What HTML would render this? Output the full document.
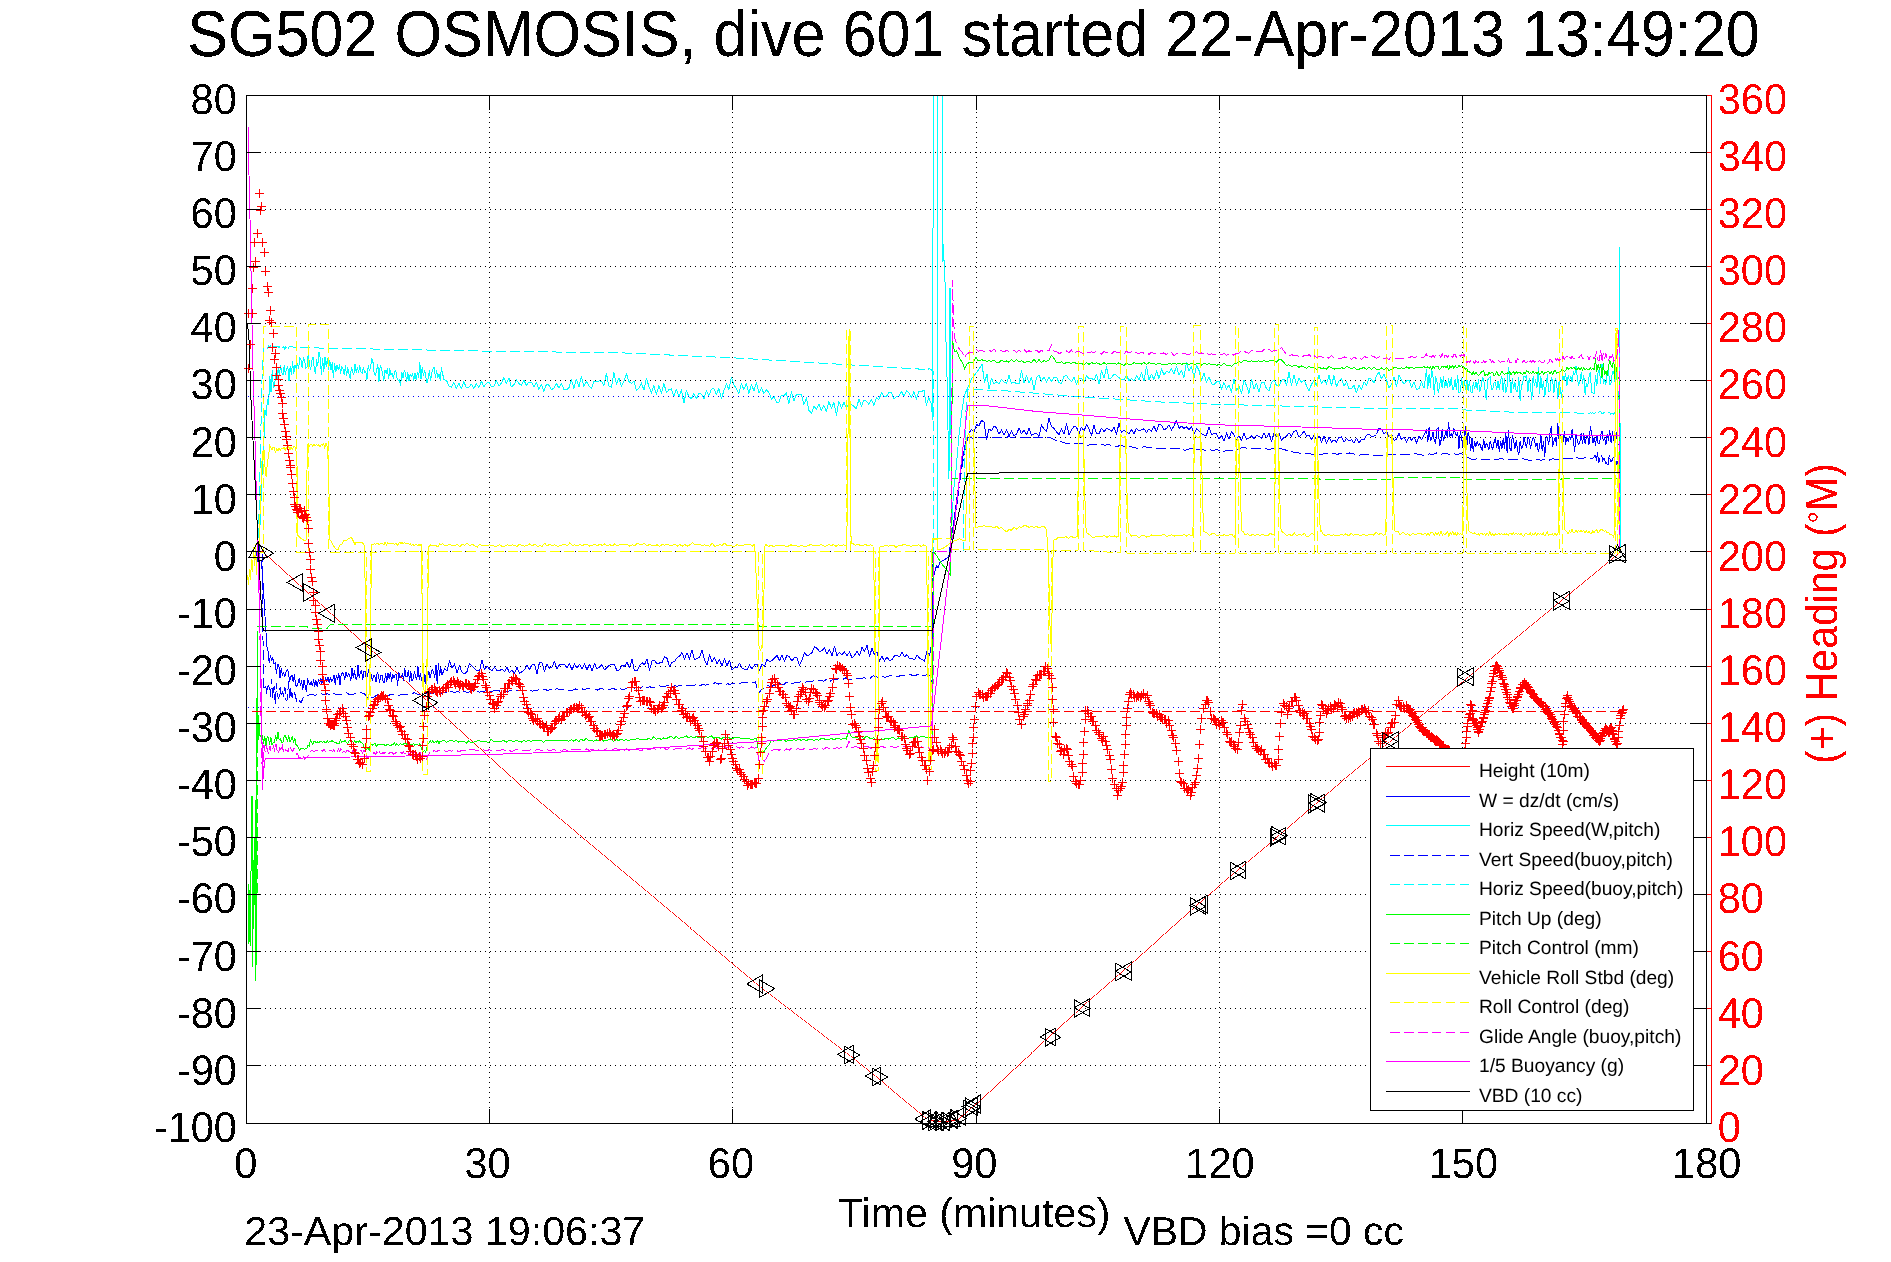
<!DOCTYPE html>
<html><head><meta charset="utf-8"><title>SG502 OSMOSIS dive 601</title>
<style>html,body{margin:0;padding:0;background:#fff}svg{display:block}</style></head>
<body>
<svg width="1891" height="1262" viewBox="0 0 1891 1262" font-family='"Liberation Sans", Arial, Helvetica, sans-serif' shape-rendering="crispEdges" text-rendering="geometricPrecision">
<rect width="1891" height="1262" fill="#fff"/>
<defs><filter id="al" x="-2%" y="-10%" width="104%" height="120%" color-interpolation-filters="sRGB"><feComponentTransfer><feFuncA type="discrete" tableValues="0 1"/></feComponentTransfer></filter><clipPath id="pc"><rect x="246.5" y="95.5" width="1460.0" height="1028.0"/></clipPath></defs>
<path d="M265 1065.5H1690M265 1008.5H1690M265 951.5H1690M265 894.5H1690M265 837.5H1690M265 780.5H1690M265 723.5H1690M265 666.5H1690M265 609.5H1690M265 551.5H1690M265 494.5H1690M265 437.5H1690M265 380.5H1690M265 323.5H1690M265 266.5H1690M265 209.5H1690M265 152.5H1690M489.5 112V1109M732.5 112V1109M976.5 112V1109M1219.5 112V1109M1462.5 112V1109" stroke="#000" stroke-width="1" stroke-dasharray="1 4" fill="none"/>
<g clip-path="url(#pc)" fill="none" stroke-width="1" stroke-linejoin="round">
<path d="M259 551.5h5M263 552.5h1M1619 552.5h1M264 553.5h1M1618 553.5h1M265 554.5h1M1617 554.5h1M266 555.5h1M1616 555.5h1M268 556.5h1M1614 556.5h1M269 557.5h1M1613 557.5h1M270 558.5h1M1612 558.5h1M271 559.5h1M1611 559.5h1M272 560.5h1M1610 560.5h1M273 561.5h1M1609 561.5h1M274 562.5h1M1607 562.5h1M275 563.5h1M1606 563.5h1M276 564.5h1M1605 564.5h1M278 565.5h1M1604 565.5h1M279 566.5h1M1602 566.5h1M280 567.5h1M1601 567.5h1M281 568.5h1M1600 568.5h1M282 569.5h1M1599 569.5h1M283 570.5h1M1598 570.5h1M284 571.5h1M1596 571.5h1M285 572.5h1M1595 572.5h1M286 573.5h1M1594 573.5h1M287 574.5h1M1593 574.5h1M289 575.5h1M1592 575.5h1M290 576.5h1M1590 576.5h1M291 577.5h1M1589 577.5h1M292 578.5h1M1588 578.5h1M293 579.5h1M1587 579.5h1M294 580.5h1M1585 580.5h1M295 581.5h1M1584 581.5h1M296 582.5h1M1583 582.5h1M297 583.5h1M1582 583.5h1M298 584.5h1M1581 584.5h1M300 585.5h1M1579 585.5h1M301 586.5h1M1578 586.5h1M302 587.5h1M1577 587.5h1M303 588.5h1M1576 588.5h1M304 589.5h1M1574 589.5h1M305 590.5h1M1573 590.5h1M306 591.5h1M1572 591.5h1M307 592.5h1M1571 592.5h1M308 593.5h1M1570 593.5h1M310 594.5h1M1568 594.5h1M311 595.5h1M1567 595.5h1M312 596.5h1M1566 596.5h1M313 597.5h1M1565 597.5h1M314 598.5h1M1564 598.5h1M315 599.5h1M1562 599.5h1M316 600.5h1M1561 600.5h1M317 601.5h1M1560 601.5h1M318 602.5h1M1559 602.5h1M319 603.5h1M1557 603.5h1M321 604.5h1M1556 604.5h1M322 605.5h1M1555 605.5h1M323 606.5h1M1554 606.5h1M324 607.5h1M1553 607.5h1M325 608.5h1M1551 608.5h1M326 609.5h1M1550 609.5h1M327 610.5h1M1549 610.5h1M328 611.5h1M1548 611.5h1M329 612.5h1M1547 612.5h1M330 613.5h1M1545 613.5h1M332 614.5h1M1544 614.5h1M333 615.5h1M1543 615.5h1M334 616.5h1M1542 616.5h1M335 617.5h1M1540 617.5h1M336 618.5h1M1539 618.5h1M337 619.5h1M1538 619.5h1M338 620.5h1M1537 620.5h1M339 621.5h1M1536 621.5h1M340 622.5h1M1534 622.5h1M342 623.5h1M1533 623.5h1M343 624.5h1M1532 624.5h1M344 625.5h1M1531 625.5h1M345 626.5h1M1529 626.5h1M346 627.5h1M1528 627.5h1M347 628.5h1M1527 628.5h1M348 629.5h1M1526 629.5h1M349 630.5h1M1525 630.5h1M350 631.5h1M1523 631.5h1M351 632.5h1M1522 632.5h1M353 633.5h1M1521 633.5h1M354 634.5h1M1520 634.5h1M355 635.5h1M1519 635.5h1M356 636.5h1M1517 636.5h1M357 637.5h1M1516 637.5h1M358 638.5h1M1515 638.5h1M359 639.5h1M1514 639.5h1M360 640.5h1M1512 640.5h1M361 641.5h1M1511 641.5h1M363 642.5h1M1510 642.5h1M364 643.5h1M1509 643.5h1M365 644.5h1M1508 644.5h1M366 645.5h1M1506 645.5h1M367 646.5h1M1505 646.5h1M368 647.5h1M1504 647.5h1M369 648.5h1M1503 648.5h1M370 649.5h1M1501 649.5h1M371 650.5h1M1500 650.5h1M372 651.5h1M1499 651.5h1M374 652.5h1M1498 652.5h1M375 653.5h1M1497 653.5h1M376 654.5h1M1495 654.5h1M377 655.5h1M1494 655.5h1M378 656.5h1M1493 656.5h1M379 657.5h1M1492 657.5h1M380 658.5h1M1491 658.5h1M381 659.5h1M1489 659.5h1M382 660.5h1M1488 660.5h1M383 661.5h1M1487 661.5h1M385 662.5h1M1486 662.5h1M386 663.5h1M1484 663.5h1M387 664.5h1M1483 664.5h1M388 665.5h1M1482 665.5h1M389 666.5h1M1481 666.5h1M390 667.5h1M1480 667.5h1M391 668.5h1M1478 668.5h1M392 669.5h1M1477 669.5h1M393 670.5h1M1476 670.5h1M395 671.5h1M1475 671.5h1M396 672.5h1M1473 672.5h1M397 673.5h1M1472 673.5h1M398 674.5h1M1471 674.5h1M399 675.5h1M1470 675.5h1M400 676.5h1M1469 676.5h1M401 677.5h1M1467 677.5h1M402 678.5h1M1466 678.5h1M403 679.5h1M1465 679.5h1M404 680.5h1M1464 680.5h1M406 681.5h1M1463 681.5h1M407 682.5h1M1461 682.5h1M408 683.5h1M1460 683.5h1M409 684.5h1M1459 684.5h1M410 685.5h1M1458 685.5h1M411 686.5h1M1456 686.5h1M412 687.5h1M1455 687.5h1M413 688.5h1M1454 688.5h1M414 689.5h1M1453 689.5h1M415 690.5h1M1452 690.5h1M417 691.5h1M1450 691.5h1M418 692.5h1M1449 692.5h1M419 693.5h1M1448 693.5h1M420 694.5h1M1447 694.5h1M421 695.5h1M1445 695.5h1M422 696.5h1M1444 696.5h1M423 697.5h1M1443 697.5h1M424 698.5h1M1442 698.5h1M425 699.5h1M1441 699.5h1M427 700.5h1M1439 700.5h1M428 701.5h1M1438 701.5h1M429 702.5h1M1437 702.5h1M430 703.5h1M1436 703.5h1M431 704.5h1M1435 704.5h1M432 705.5h1M1433 705.5h1M433 706.5h1M1432 706.5h1M434 707.5h1M1431 707.5h1M435 708.5h1M1430 708.5h1M436 709.5h1M1428 709.5h1M438 710.5h1M1427 710.5h1M439 711.5h1M1426 711.5h1M440 712.5h1M1425 712.5h1M441 713.5h1M1424 713.5h1M442 714.5h1M1422 714.5h1M443 715.5h1M1421 715.5h1M444 716.5h1M1420 716.5h1M445 717.5h1M1419 717.5h1M446 718.5h1M1418 718.5h1M448 719.5h1M1416 719.5h1M449 720.5h1M1415 720.5h1M450 721.5h1M1414 721.5h1M451 722.5h1M1413 722.5h1M452 723.5h1M1411 723.5h1M453 724.5h1M1410 724.5h1M454 725.5h1M1409 725.5h1M455 726.5h1M1408 726.5h1M456 727.5h1M1407 727.5h1M457 728.5h1M1405 728.5h1M459 729.5h1M1404 729.5h1M460 730.5h1M1403 730.5h1M461 731.5h1M1402 731.5h1M462 732.5h1M1400 732.5h1M463 733.5h1M1399 733.5h1M464 734.5h1M1398 734.5h1M465 735.5h1M1397 735.5h1M466 736.5h1M1396 736.5h1M467 737.5h1M1394 737.5h1M468 738.5h1M1393 738.5h1M470 739.5h1M1392 739.5h1M471 740.5h1M1391 740.5h1M472 741.5h1M1390 741.5h1M473 742.5h1M1388 742.5h1M474 743.5h1M1387 743.5h1M475 744.5h1M1386 744.5h1M476 745.5h1M1385 745.5h1M477 746.5h1M1383 746.5h1M478 747.5h1M1382 747.5h1M480 748.5h1M1381 748.5h1M481 749.5h1M1380 749.5h1M482 750.5h1M1379 750.5h1M483 751.5h1M1377 751.5h1M484 752.5h1M1376 752.5h1M485 753.5h1M1375 753.5h1M486 754.5h1M1374 754.5h1M487 755.5h1M1372 755.5h1M488 756.5h1M1371 756.5h1M489 757.5h1M1370 757.5h1M491 758.5h1M1369 758.5h1M492 759.5h1M1368 759.5h1M493 760.5h1M1366 760.5h1M494 761.5h1M1365 761.5h1M495 762.5h1M1364 762.5h1M496 763.5h1M1363 763.5h1M497 764.5h1M1362 764.5h1M498 765.5h1M1360 765.5h1M499 766.5h1M1359 766.5h1M500 767.5h1M1358 767.5h1M502 768.5h1M1357 768.5h1M503 769.5h1M1355 769.5h1M504 770.5h1M1354 770.5h1M505 771.5h1M1353 771.5h1M506 772.5h1M1352 772.5h1M507 773.5h1M1351 773.5h1M508 774.5h1M1349 774.5h1M509 775.5h1M1348 775.5h1M510 776.5h1M1347 776.5h1M512 777.5h1M1346 777.5h1M513 778.5h1M1344 778.5h1M514 779.5h1M1343 779.5h1M515 780.5h1M1342 780.5h1M516 781.5h1M1341 781.5h1M517 782.5h1M1340 782.5h1M518 783.5h1M1339 783.5h1M519 784.5h1M1338 784.5h1M520 785.5h1M1337 785.5h1M521 786.5h1M1335 786.5h1M523 787.5h1M1334 787.5h1M524 788.5h1M1333 788.5h1M525 789.5h1M1332 789.5h1M526 790.5h1M1331 790.5h1M527 791.5h1M1330 791.5h1M528 792.5h1M1328 792.5h1M530 793.5h1M1327 793.5h1M531 794.5h1M1326 794.5h1M532 795.5h1M1325 795.5h1M533 796.5h1M1324 796.5h1M534 797.5h1M1323 797.5h1M536 798.5h1M1321 798.5h1M537 799.5h1M1320 799.5h1M538 800.5h1M1319 800.5h1M539 801.5h1M1318 801.5h1M540 802.5h1M1317 802.5h1M541 803.5h1M1316 803.5h1M543 804.5h1M1314 804.5h1M544 805.5h1M1313 805.5h1M545 806.5h1M1312 806.5h1M546 807.5h1M1311 807.5h1M547 808.5h1M1310 808.5h1M549 809.5h1M1309 809.5h1M550 810.5h1M1307 810.5h1M551 811.5h1M1306 811.5h1M552 812.5h1M1305 812.5h1M553 813.5h1M1304 813.5h1M555 814.5h1M1303 814.5h1M556 815.5h1M1302 815.5h1M557 816.5h1M1301 816.5h1M558 817.5h1M1299 817.5h1M559 818.5h1M1298 818.5h1M561 819.5h1M1297 819.5h1M562 820.5h1M1296 820.5h1M563 821.5h1M1295 821.5h1M564 822.5h1M1294 822.5h1M565 823.5h1M1292 823.5h1M567 824.5h1M1291 824.5h1M568 825.5h1M1290 825.5h1M569 826.5h1M1289 826.5h1M570 827.5h1M1288 827.5h1M571 828.5h1M1287 828.5h1M573 829.5h1M1285 829.5h1M574 830.5h1M1284 830.5h1M575 831.5h1M1283 831.5h1M576 832.5h1M1282 832.5h1M577 833.5h1M1281 833.5h1M578 834.5h1M1280 834.5h1M580 835.5h1M1278 835.5h1M581 836.5h1M1277 836.5h1M582 837.5h1M1276 837.5h1M583 838.5h1M1275 838.5h1M584 839.5h1M1274 839.5h1M586 840.5h1M1273 840.5h1M587 841.5h1M1271 841.5h1M588 842.5h1M1270 842.5h1M589 843.5h1M1269 843.5h1M590 844.5h1M1268 844.5h1M592 845.5h1M1267 845.5h1M593 846.5h1M1266 846.5h1M594 847.5h1M1264 847.5h1M595 848.5h1M1263 848.5h1M596 849.5h1M1262 849.5h1M598 850.5h1M1261 850.5h1M599 851.5h1M1260 851.5h1M600 852.5h1M1258 852.5h1M601 853.5h1M1257 853.5h1M602 854.5h1M1256 854.5h1M604 855.5h1M1255 855.5h1M605 856.5h1M1254 856.5h1M606 857.5h1M1252 857.5h1M607 858.5h1M1251 858.5h1M608 859.5h1M1250 859.5h1M610 860.5h1M1249 860.5h1M611 861.5h1M1248 861.5h1M612 862.5h1M1246 862.5h1M613 863.5h1M1245 863.5h1M614 864.5h1M1244 864.5h1M615 865.5h1M1243 865.5h1M617 866.5h1M1242 866.5h1M618 867.5h1M1240 867.5h1M619 868.5h1M1239 868.5h1M620 869.5h1M1238 869.5h1M621 870.5h1M1237 870.5h1M623 871.5h1M1236 871.5h1M624 872.5h1M1234 872.5h1M625 873.5h1M1233 873.5h1M626 874.5h1M1232 874.5h1M627 875.5h1M1231 875.5h1M629 876.5h1M1230 876.5h1M630 877.5h1M1228 877.5h1M631 878.5h1M1227 878.5h1M632 879.5h1M1226 879.5h1M633 880.5h1M1225 880.5h1M635 881.5h1M1224 881.5h1M636 882.5h1M1222 882.5h1M637 883.5h1M1221 883.5h1M638 884.5h1M1220 884.5h1M639 885.5h1M1219 885.5h1M641 886.5h1M1218 886.5h1M642 887.5h1M1217 887.5h1M643 888.5h1M1216 888.5h1M644 889.5h1M1215 889.5h1M645 890.5h1M1214 890.5h1M647 891.5h1M1212 891.5h1M648 892.5h1M1211 892.5h1M649 893.5h1M1210 893.5h1M650 894.5h1M1209 894.5h1M651 895.5h1M1208 895.5h1M653 896.5h1M1207 896.5h1M654 897.5h1M1205 897.5h1M655 898.5h1M1204 898.5h1M656 899.5h1M1203 899.5h1M657 900.5h1M1202 900.5h1M658 901.5h1M1201 901.5h1M660 902.5h1M1200 902.5h1M661 903.5h1M1198 903.5h1M662 904.5h1M1197 904.5h1M663 905.5h1M1196 905.5h1M664 906.5h1M1195 906.5h1M666 907.5h1M1194 907.5h1M667 908.5h1M1193 908.5h1M668 909.5h1M1192 909.5h1M669 910.5h1M1190 910.5h1M670 911.5h1M1189 911.5h1M672 912.5h1M1188 912.5h1M673 913.5h1M1187 913.5h1M674 914.5h1M1186 914.5h1M675 915.5h1M1185 915.5h1M676 916.5h1M1184 916.5h1M678 917.5h1M1183 917.5h1M679 918.5h1M1181 918.5h1M680 919.5h1M1180 919.5h1M681 920.5h1M1179 920.5h1M682 921.5h1M1178 921.5h1M684 922.5h1M1177 922.5h1M685 923.5h1M1176 923.5h1M686 924.5h1M1175 924.5h1M687 925.5h1M1174 925.5h1M688 926.5h1M1172 926.5h1M690 927.5h1M1171 927.5h1M690 928.5h1M1170 928.5h1M691 929.5h1M1169 929.5h1M693 930.5h1M1168 930.5h1M694 931.5h1M1167 931.5h1M695 932.5h1M1166 932.5h1M696 933.5h1M1165 933.5h1M697 934.5h1M1163 934.5h1M699 935.5h1M1162 935.5h1M700 936.5h1M1161 936.5h1M701 937.5h1M1160 937.5h1M702 938.5h1M1159 938.5h1M703 939.5h1M1158 939.5h1M704 940.5h1M1157 940.5h1M706 941.5h1M1156 941.5h1M707 942.5h1M1155 942.5h1M708 943.5h1M1154 943.5h1M709 944.5h1M1153 944.5h1M710 945.5h1M1151 945.5h1M712 946.5h1M1150 946.5h1M713 947.5h1M1149 947.5h1M714 948.5h1M1148 948.5h1M715 949.5h1M1147 949.5h1M716 950.5h1M1146 950.5h1M718 951.5h1M1145 951.5h1M719 952.5h1M1144 952.5h1M720 953.5h1M1142 953.5h1M721 954.5h1M1141 954.5h1M722 955.5h1M1140 955.5h1M724 956.5h1M1139 956.5h1M725 957.5h1M1138 957.5h1M726 958.5h1M1137 958.5h1M727 959.5h1M1136 959.5h1M728 960.5h1M1135 960.5h1M729 961.5h1M1133 961.5h1M731 962.5h1M1132 962.5h1M732 963.5h1M1131 963.5h1M733 964.5h1M1130 964.5h1M734 965.5h1M1129 965.5h1M735 966.5h1M1128 966.5h1M737 967.5h1M1127 967.5h1M738 968.5h1M1125 968.5h1M739 969.5h1M1124 969.5h1M740 970.5h1M1123 970.5h1M741 971.5h1M1122 971.5h1M743 972.5h1M1121 972.5h1M744 973.5h1M1120 973.5h1M745 974.5h1M1119 974.5h1M746 975.5h1M1117 975.5h1M747 976.5h1M1116 976.5h1M749 977.5h1M1115 977.5h1M750 978.5h1M1114 978.5h1M751 979.5h1M1113 979.5h1M752 980.5h1M1112 980.5h1M753 981.5h1M1111 981.5h1M754 982.5h1M1109 982.5h1M756 983.5h1M1108 983.5h1M757 984.5h1M1107 984.5h1M758 985.5h1M1106 985.5h1M759 986.5h1M1105 986.5h1M761 987.5h1M1104 987.5h1M762 988.5h1M1103 988.5h1M763 989.5h1M1101 989.5h1M764 990.5h1M1100 990.5h1M766 991.5h1M1099 991.5h1M767 992.5h1M1098 992.5h1M768 993.5h1M1097 993.5h1M770 994.5h1M1096 994.5h1M771 995.5h1M1094 995.5h1M772 996.5h1M1093 996.5h1M774 997.5h1M1092 997.5h1M775 998.5h1M1091 998.5h1M776 999.5h1M1090 999.5h1M778 1000.5h1M1089 1000.5h1M779 1001.5h1M1088 1001.5h1M780 1002.5h1M1086 1002.5h1M781 1003.5h1M1085 1003.5h1M783 1004.5h1M1084 1004.5h1M784 1005.5h1M1083 1005.5h1M785 1006.5h1M1082 1006.5h1M787 1007.5h1M1081 1007.5h1M788 1008.5h1M1080 1008.5h1M789 1009.5h1M1079 1009.5h1M791 1010.5h1M1078 1010.5h1M792 1011.5h1M1077 1011.5h1M793 1012.5h1M1076 1012.5h1M794 1013.5h1M1074 1013.5h1M796 1014.5h1M1073 1014.5h1M797 1015.5h1M1072 1015.5h1M798 1016.5h1M1071 1016.5h1M800 1017.5h1M1070 1017.5h1M801 1018.5h1M1069 1018.5h1M802 1019.5h1M1068 1019.5h1M804 1020.5h1M1067 1020.5h1M805 1021.5h1M1066 1021.5h1M806 1022.5h1M1064 1022.5h1M808 1023.5h1M1063 1023.5h1M809 1024.5h1M1062 1024.5h1M810 1025.5h1M1061 1025.5h1M811 1026.5h1M1060 1026.5h1M813 1027.5h1M1059 1027.5h1M814 1028.5h1M1058 1028.5h1M815 1029.5h1M1057 1029.5h1M817 1030.5h1M1056 1030.5h1M818 1031.5h1M1054 1031.5h1M819 1032.5h1M1053 1032.5h1M821 1033.5h1M1052 1033.5h1M822 1034.5h1M1051 1034.5h1M823 1035.5h1M1050 1035.5h1M824 1036.5h1M1049 1036.5h1M826 1037.5h1M1048 1037.5h1M827 1038.5h1M1047 1038.5h1M828 1039.5h1M1046 1039.5h1M830 1040.5h1M1045 1040.5h1M831 1041.5h1M1043 1041.5h1M832 1042.5h1M1042 1042.5h1M834 1043.5h1M1041 1043.5h1M835 1044.5h1M1040 1044.5h1M836 1045.5h1M1039 1045.5h1M838 1046.5h1M1038 1046.5h1M839 1047.5h1M1037 1047.5h1M840 1048.5h1M1036 1048.5h1M841 1049.5h1M1035 1049.5h1M843 1050.5h1M1034 1050.5h1M844 1051.5h1M1033 1051.5h1M845 1052.5h1M1031 1052.5h1M847 1053.5h1M1031 1053.5h1M848 1054.5h1M1030 1054.5h1M849 1055.5h1M1029 1055.5h1M851 1056.5h1M1028 1056.5h1M852 1057.5h1M1027 1057.5h1M853 1058.5h1M1025 1058.5h1M854 1059.5h1M1024 1059.5h1M856 1060.5h1M1023 1060.5h1M857 1061.5h1M1022 1061.5h1M858 1062.5h1M1021 1062.5h1M859 1063.5h1M1020 1063.5h1M861 1064.5h1M1019 1064.5h1M862 1065.5h1M1018 1065.5h1M863 1066.5h1M1017 1066.5h1M864 1067.5h1M1016 1067.5h1M866 1068.5h1M1015 1068.5h1M867 1069.5h1M1013 1069.5h1M868 1070.5h1M1012 1070.5h1M869 1071.5h1M1011 1071.5h1M871 1072.5h1M1010 1072.5h1M872 1073.5h1M1009 1073.5h1M873 1074.5h1M1008 1074.5h1M874 1075.5h1M1007 1075.5h1M876 1076.5h1M1006 1076.5h1M877 1077.5h1M1005 1077.5h1M878 1078.5h1M1004 1078.5h1M879 1079.5h1M1003 1079.5h1M880 1080.5h1M1002 1080.5h1M882 1081.5h1M1000 1081.5h1M883 1082.5h1M999 1082.5h1M884 1083.5h1M998 1083.5h1M885 1084.5h1M997 1084.5h1M886 1085.5h1M996 1085.5h1M888 1086.5h1M995 1086.5h1M888 1087.5h1M994 1087.5h1M890 1088.5h1M993 1088.5h1M891 1089.5h1M992 1089.5h1M892 1090.5h1M991 1090.5h1M893 1091.5h1M990 1091.5h1M894 1092.5h1M988 1092.5h1M896 1093.5h1M987 1093.5h1M897 1094.5h1M986 1094.5h1M898 1095.5h1M985 1095.5h1M899 1096.5h1M984 1096.5h1M900 1097.5h1M983 1097.5h1M902 1098.5h1M982 1098.5h1M903 1099.5h1M981 1099.5h1M904 1100.5h1M980 1100.5h1M905 1101.5h1M979 1101.5h1M906 1102.5h1M978 1102.5h1M908 1103.5h1M976 1103.5h1M909 1104.5h1M975 1104.5h1M910 1105.5h1M974 1105.5h1M911 1106.5h1M973 1106.5h1M913 1107.5h1M972 1107.5h1M914 1108.5h1M970 1108.5h1M915 1109.5h1M969 1109.5h1M916 1110.5h1M968 1110.5h1M917 1111.5h1M967 1111.5h1M919 1112.5h1M966 1112.5h1M920 1113.5h1M965 1113.5h1M921 1114.5h1M964 1114.5h1M922 1115.5h1M962 1115.5h1M923 1116.5h1M961 1116.5h1M925 1117.5h1M960 1117.5h1M926 1118.5h1M959 1118.5h1M928 1119.5h1M958 1119.5h1M929 1120.5h6M949 1120.5h10M935 1121.5h15" stroke="#f00"/>
<path d="M256.5 556.0L257.3 548.0L258.2 566.0L259.0 545.0L259.8 560.0L261.4 560.0L263.5 590.0L265.5 625.0L267.0 647.0L268.0 650.4L269.2 663.0L270.4 655.4L271.6 660.8L272.8 657.7L274.0 664.0L275.2 662.8L276.4 673.3L277.6 664.4L278.8 664.9L280.0 678.4L281.2 668.0L282.4 676.0L283.6 672.4L284.8 676.2L286.0 672.4L287.2 669.7L288.4 671.3L289.6 682.0L290.8 676.9L292.0 675.2L293.2 681.8L294.4 674.7L295.6 684.8L296.8 686.9L298.0 682.9L299.2 678.3L300.4 685.8L301.6 680.8L302.8 689.6L304.0 680.2L305.2 686.3L306.4 691.8L307.6 678.3L308.8 683.0L310.0 685.1L311.2 681.7L312.4 686.0L313.6 679.4L314.8 686.1L316.0 680.6L317.2 686.5L318.4 679.7L319.6 683.4L320.8 678.4L322.0 683.5L323.2 676.0L324.4 683.3L325.6 678.0L326.8 681.9L328.0 677.5L329.2 682.7L330.4 677.6L331.6 681.3L332.8 680.1L334.0 675.0L335.2 684.9L336.4 675.4L337.6 679.7L338.8 673.5L340.0 685.0L341.2 674.1L342.4 672.6L343.6 674.2L344.8 679.4L346.0 671.6L347.2 676.9L348.4 673.6L349.6 674.7L350.8 680.8L352.0 668.1L353.2 678.0L354.4 670.9L355.6 678.0L356.8 679.4L358.0 665.1L359.2 678.0L360.4 672.1L361.6 671.0L362.8 679.1L364.0 670.9L365.2 671.5L366.4 679.0L367.6 674.7L368.8 669.0L370.0 678.7L371.2 674.6L372.4 680.7L373.6 675.5L374.8 676.0L376.0 681.9L377.2 672.2L378.4 675.0L379.6 682.2L380.8 675.2L382.0 675.2L383.2 682.1L384.4 682.8L385.6 673.7L386.8 682.0L388.0 672.9L389.2 678.4L390.4 672.0L391.6 681.4L392.8 674.0L394.0 677.9L395.2 674.0L396.4 674.0L397.6 685.8L398.8 672.0L400.0 678.0L401.2 676.6L402.4 673.7L403.6 680.1L404.8 668.4L406.0 676.8L407.2 676.9L408.4 670.3L409.6 681.2L410.8 671.3L412.0 680.8L413.2 678.6L414.4 671.6L415.6 677.1L416.8 679.7L418.0 666.4L419.2 679.4L420.4 673.7L421.6 680.1L422.8 681.3L424.0 673.6L425.2 683.4L426.4 671.1L427.6 676.3L428.8 671.2L430.0 678.0L431.2 672.8L432.4 669.3L433.6 672.1L434.8 677.3L436.0 664.9L437.2 683.5L438.4 663.1L439.6 675.7L440.8 667.6L442.0 675.1L444.5 668.8L447.0 670.8L449.5 661.0L452.0 668.2L454.5 663.8L457.0 672.9L459.5 665.9L462.0 672.3L464.5 673.8L467.0 671.6L469.5 663.2L472.0 665.9L474.5 668.5L477.0 670.6L479.5 671.2L482.0 659.9L484.5 670.0L487.0 665.7L489.5 669.0L492.0 670.9L494.5 666.9L497.0 670.8L499.5 670.9L502.0 668.8L504.5 671.6L507.0 667.4L509.5 672.8L512.0 670.2L514.5 673.6L517.0 667.5L519.5 673.1L522.0 671.8L524.5 669.6L527.0 665.4L529.5 669.3L532.0 664.9L534.5 664.5L537.0 673.6L539.5 662.3L542.0 662.7L544.5 671.9L547.0 663.9L549.5 668.5L552.0 666.9L554.5 661.4L557.0 668.6L559.5 664.8L562.0 664.0L564.5 664.5L567.0 668.0L569.5 663.4L572.0 670.1L574.5 663.9L577.0 668.1L579.5 664.4L582.0 669.2L584.5 663.8L587.0 669.9L589.5 664.1L592.0 671.1L594.5 663.2L597.0 668.9L599.5 667.1L602.0 664.7L604.5 669.8L607.0 667.5L609.5 665.1L612.0 664.6L614.5 664.8L617.0 670.8L619.5 669.9L622.0 665.6L624.5 666.3L627.0 662.2L629.5 667.8L632.0 659.4L634.5 671.0L637.0 670.6L639.5 665.8L642.0 662.7L644.5 664.7L647.0 658.8L649.5 670.4L652.0 660.9L654.5 660.3L657.0 663.7L659.5 663.0L662.0 662.5L664.5 656.8L667.0 658.3L669.5 666.4L672.0 662.2L674.5 661.8L677.0 657.7L679.5 656.4L682.0 652.6L684.5 659.1L687.0 652.8L689.5 659.3L692.0 649.6L694.5 659.9L697.0 658.6L699.5 657.4L702.0 649.9L704.5 659.9L707.0 665.0L709.5 654.7L712.0 661.6L714.5 657.5L717.0 663.9L719.5 659.8L722.0 666.0L724.5 658.9L727.0 665.7L729.5 660.3L732.0 669.6L734.5 667.5L737.0 668.1L739.5 663.4L742.0 668.2L744.5 669.2L747.0 669.6L749.5 665.0L752.0 669.0L754.5 664.9L757.0 664.1L759.5 670.2L762.0 664.0L764.5 666.0L767.0 659.5L769.5 661.4L772.0 660.9L774.5 657.8L777.0 655.5L779.5 660.6L782.0 655.1L784.5 661.3L787.0 655.0L789.5 656.9L792.0 661.1L794.5 657.5L797.0 657.8L799.5 665.1L802.0 659.7L804.5 652.6L807.0 655.9L809.5 654.7L812.0 652.6L814.5 646.4L817.0 648.3L819.5 651.6L822.0 650.5L824.5 647.6L827.0 654.2L829.5 649.4L832.0 655.6L834.5 646.6L837.0 655.4L839.5 652.2L842.0 654.8L844.5 651.8L847.0 656.0L849.5 651.9L852.0 657.9L854.5 655.2L857.0 651.4L859.5 655.3L862.0 647.6L864.5 651.5L867.0 645.4L869.5 656.1L872.0 648.5L874.5 654.8L877.0 651.8L879.5 661.1L882.0 656.6L884.5 661.1L887.0 656.8L889.5 660.8L892.0 659.4L894.5 655.9L897.0 655.1L899.5 656.8L902.0 651.9L904.5 656.8L907.0 654.7L909.5 658.4L912.0 658.2L914.5 659.7L917.0 654.7L919.5 658.3L922.0 659.3L924.5 661.1L927.0 650.7L929.5 655.5L932.4 640.0L933.0 600.0L934.0 575.0L936.6 565.4L938.0 568.0L940.0 562.0L944.0 560.0L948.8 556.6L951.0 540.0L954.0 520.0L958.0 490.0L962.0 462.0L965.0 445.0L967.7 435.4L969.0 432.9L971.5 429.4L974.0 431.9L976.5 424.6L979.0 425.7L981.5 420.4L984.0 421.9L986.5 439.5L989.0 428.9L991.5 430.6L994.0 426.2L996.5 427.6L999.0 434.3L1001.5 430.0L1004.0 435.3L1006.5 429.6L1009.0 435.6L1011.5 430.9L1014.0 435.4L1016.5 434.3L1019.0 428.0L1021.5 433.8L1024.0 429.9L1026.5 434.9L1029.0 428.4L1031.5 435.5L1034.0 434.0L1036.5 433.1L1039.0 436.5L1041.5 424.8L1044.0 429.3L1046.5 431.4L1049.0 418.3L1051.5 426.9L1054.0 428.3L1056.5 431.9L1059.0 434.6L1061.5 429.0L1064.0 434.1L1066.5 423.8L1069.0 434.5L1071.5 430.1L1074.0 426.4L1076.5 427.1L1079.0 433.6L1081.5 427.1L1084.0 431.3L1086.5 424.3L1089.0 429.0L1091.5 435.5L1094.0 425.4L1096.5 433.9L1099.0 433.7L1101.5 428.2L1104.0 431.5L1106.5 428.7L1109.0 429.1L1111.5 431.1L1114.0 427.5L1116.5 434.2L1119.0 423.2L1121.5 432.8L1124.0 430.0L1126.5 432.4L1129.0 433.4L1131.5 429.8L1134.0 433.7L1136.5 428.1L1139.0 431.1L1141.5 429.8L1144.0 428.8L1146.5 432.6L1149.0 428.8L1151.5 431.1L1154.0 426.4L1156.5 431.9L1159.0 424.0L1161.5 425.5L1164.0 429.7L1166.5 428.6L1169.0 424.8L1171.5 430.1L1174.0 425.7L1176.5 420.4L1179.0 428.3L1181.5 426.1L1184.0 428.4L1186.5 426.8L1189.0 429.7L1191.5 426.7L1194.0 434.1L1196.5 429.0L1199.0 430.9L1201.5 433.5L1204.0 435.0L1206.5 435.1L1209.0 427.2L1211.5 434.8L1214.0 433.4L1216.5 434.0L1219.0 439.0L1221.5 435.4L1224.0 441.2L1226.5 433.0L1229.0 439.3L1231.5 431.6L1234.0 434.7L1236.5 439.6L1239.0 435.9L1241.5 440.3L1244.0 433.0L1246.5 439.5L1249.0 438.0L1251.5 436.0L1254.0 438.7L1256.5 435.2L1259.0 436.3L1261.5 438.6L1264.0 432.9L1266.5 437.8L1269.0 432.9L1271.5 441.8L1274.0 433.1L1276.5 436.6L1279.0 433.3L1281.5 440.4L1284.0 437.4L1286.5 436.1L1289.0 432.9L1291.5 436.2L1294.0 431.1L1296.5 430.9L1299.0 437.1L1301.5 434.6L1304.0 431.1L1306.5 436.0L1309.0 434.9L1311.5 439.5L1314.0 435.3L1316.5 439.8L1319.0 435.8L1321.5 442.0L1324.0 436.3L1326.5 443.6L1329.0 437.3L1331.5 442.1L1334.0 439.8L1336.5 442.0L1339.0 437.6L1341.5 436.8L1344.0 442.2L1346.5 438.6L1349.0 441.2L1351.5 439.5L1354.0 443.3L1356.5 438.3L1359.0 442.6L1361.5 439.6L1364.0 439.8L1366.5 435.1L1369.0 434.1L1371.5 436.5L1374.0 436.0L1376.5 434.5L1379.0 428.0L1381.5 429.5L1384.0 433.6L1386.5 431.6L1389.0 436.6L1391.5 434.3L1394.0 440.3L1396.5 439.2L1399.0 433.3L1401.5 439.8L1404.0 436.7L1406.5 442.3L1409.0 436.9L1411.5 440.2L1414.0 436.7L1416.5 443.0L1419.0 436.1L1421.5 439.9L1424.0 435.3L1426.5 429.7L1427.8 441.9L1429.1 427.4L1430.4 440.6L1431.7 438.9L1433.0 431.6L1434.3 441.0L1435.6 443.4L1436.9 428.9L1438.2 427.8L1439.5 445.8L1440.8 442.5L1442.1 429.7L1443.4 440.5L1444.7 436.7L1446.0 429.6L1447.3 437.3L1448.6 422.5L1449.9 436.6L1451.2 433.1L1452.5 437.2L1453.8 428.5L1455.1 432.1L1456.4 435.8L1457.7 432.5L1459.0 448.5L1460.3 431.0L1461.6 437.6L1462.9 446.7L1464.2 439.5L1465.5 426.4L1466.8 447.6L1468.1 432.3L1469.4 438.2L1470.7 450.9L1472.0 438.3L1473.3 451.3L1474.6 441.1L1475.9 446.8L1477.2 441.3L1478.5 445.7L1479.8 443.5L1481.1 447.8L1482.4 450.8L1483.7 439.2L1485.0 448.1L1486.3 443.1L1487.6 445.7L1488.9 449.4L1490.2 441.0L1491.5 446.4L1492.8 449.1L1494.1 442.0L1495.4 438.0L1496.7 447.8L1498.0 439.6L1499.3 451.2L1500.6 441.2L1501.9 448.4L1503.2 438.4L1504.5 448.5L1505.8 433.3L1507.1 452.7L1508.4 430.2L1509.7 447.6L1511.0 451.2L1512.3 435.0L1513.6 440.7L1514.9 448.6L1516.2 440.4L1517.5 449.9L1518.8 455.0L1520.1 441.4L1521.4 448.4L1522.7 447.1L1524.0 437.4L1525.3 443.6L1526.6 447.3L1527.9 437.3L1529.2 439.6L1530.5 448.1L1531.8 442.0L1533.1 437.7L1534.4 439.6L1535.7 447.0L1537.0 443.3L1538.3 451.7L1539.6 447.5L1540.9 434.6L1542.2 450.9L1543.5 441.4L1544.8 456.2L1546.1 436.7L1547.4 437.3L1548.7 444.6L1550.0 432.7L1551.3 426.3L1552.6 446.2L1553.9 441.6L1555.2 437.2L1556.5 445.1L1557.8 423.7L1559.1 440.4L1560.4 435.0L1561.7 442.9L1563.0 441.6L1564.3 431.2L1565.6 444.4L1566.9 437.4L1568.2 441.2L1569.5 436.1L1570.8 439.8L1572.1 429.3L1573.4 441.3L1574.7 451.5L1576.0 433.7L1577.3 440.4L1578.6 444.4L1579.9 441.6L1581.2 433.0L1582.5 443.7L1583.8 433.9L1585.1 444.0L1586.4 436.4L1587.7 436.5L1589.0 444.7L1590.3 426.8L1591.6 432.3L1592.9 443.1L1594.2 437.0L1595.5 445.5L1596.8 435.1L1598.1 443.4L1599.4 443.8L1600.7 435.1L1602.0 431.2L1603.3 440.9L1604.6 437.3L1605.9 445.0L1607.2 434.1L1608.5 440.1L1609.8 430.7L1611.1 443.1L1612.4 431.8L1613.7 440.2L1615.0 437.0L1616.3 432.8L1617.6 443.5L1619.2 445.0L1620.0 552.0" stroke="#00f"/>
<path d="M259.0 546.5L260.2 521.6L261.4 490.7L262.6 460.0L263.8 444.5L265.0 410.0L266.2 415.7L267.4 399.9L268.6 404.2L269.8 376.5L271.0 392.2L272.2 370.7L273.4 387.9L274.6 385.8L275.8 373.0L277.0 379.1L278.2 368.2L279.4 375.6L280.6 365.5L281.8 372.8L283.0 374.7L284.2 365.8L285.4 374.3L286.6 368.2L287.8 366.9L289.0 380.9L290.2 366.0L291.4 374.4L292.6 361.9L293.8 373.6L295.0 365.3L296.2 368.4L297.4 363.3L298.6 368.7L299.8 357.5L301.0 359.6L302.2 367.9L303.4 357.8L304.6 360.1L305.8 368.3L307.0 367.5L308.2 354.0L309.4 363.6L310.6 370.0L311.8 361.1L313.0 357.1L314.2 367.2L315.4 373.5L316.6 359.9L317.8 365.2L319.0 352.2L320.2 357.9L321.4 374.2L322.6 358.2L323.8 371.9L325.0 357.2L326.2 366.9L327.4 358.8L328.6 369.5L329.8 360.3L331.0 370.1L332.2 362.8L333.4 377.7L334.6 363.5L335.8 372.0L337.0 365.2L338.2 370.1L339.4 364.9L340.6 373.4L341.8 366.5L343.0 368.7L344.2 374.8L345.4 365.7L346.6 375.6L347.8 367.8L349.0 374.2L350.2 378.4L351.4 367.0L352.6 371.3L353.8 375.0L355.0 363.9L356.2 372.7L357.4 367.7L358.6 372.3L359.8 365.4L361.0 372.4L362.2 373.4L363.4 367.6L364.6 372.4L365.8 371.0L367.0 379.6L368.2 365.8L369.4 370.9L370.6 367.4L371.8 358.6L373.0 362.4L374.2 373.9L375.4 375.5L376.6 370.9L377.8 364.2L379.0 381.6L380.2 365.8L381.4 367.8L382.6 373.4L383.8 381.0L385.0 369.9L386.2 373.2L387.4 368.1L388.6 379.0L389.8 368.8L391.0 375.1L392.2 373.2L393.4 379.0L394.6 371.5L395.8 370.2L397.0 378.0L398.2 380.2L399.4 379.8L400.6 385.5L401.8 372.5L403.0 378.3L404.2 370.7L405.4 372.3L406.6 381.8L407.8 372.8L409.0 381.1L410.2 374.5L411.4 376.4L412.6 373.8L413.8 380.8L415.0 372.7L416.2 379.8L417.4 372.3L418.6 377.9L419.8 362.6L421.0 379.3L422.2 367.8L423.4 375.1L424.6 370.3L425.8 376.6L427.0 383.3L428.2 378.3L429.4 370.5L430.6 380.6L431.8 372.8L433.0 369.2L434.2 367.0L435.4 377.1L436.6 370.9L437.8 377.7L439.0 373.7L440.2 380.4L441.4 367.5L443.9 379.9L446.4 380.1L448.9 385.8L451.4 387.4L453.9 382.6L456.4 388.6L458.9 383.3L461.4 388.6L463.9 381.6L466.4 387.9L468.9 387.2L471.4 384.1L473.9 388.5L476.4 383.8L478.9 387.5L481.4 381.1L483.9 386.8L486.4 383.4L488.9 381.9L491.4 386.5L493.9 386.2L496.4 380.4L498.9 386.1L501.4 383.2L503.9 377.6L506.4 383.3L508.9 378.0L511.4 387.0L513.9 384.8L516.4 380.0L518.9 383.6L521.4 385.1L523.9 380.2L526.4 385.2L528.9 382.0L531.4 382.1L533.9 387.0L536.4 382.2L538.9 389.3L541.4 384.6L543.9 391.3L546.4 384.4L548.9 385.1L551.4 390.0L553.9 387.9L556.4 383.4L558.9 388.2L561.4 383.6L563.9 389.4L566.4 389.9L568.9 387.9L571.4 379.7L573.9 388.3L576.4 379.1L578.9 387.0L581.4 376.1L583.9 386.6L586.4 381.3L588.9 386.0L591.4 388.7L593.9 381.3L596.4 382.0L598.9 380.9L601.4 381.2L603.9 385.3L606.4 373.4L608.9 386.1L611.4 387.2L613.9 372.4L616.4 384.3L618.9 378.0L621.4 386.6L623.9 381.1L626.4 373.5L628.9 381.6L631.4 383.4L633.9 380.9L636.4 390.1L638.9 388.2L641.4 383.0L643.9 390.1L646.4 378.3L648.9 386.4L651.4 393.1L653.9 385.8L656.4 394.5L658.9 385.8L661.4 393.1L663.9 383.3L666.4 392.8L668.9 389.8L671.4 388.7L673.9 396.6L676.4 389.0L678.9 397.0L681.4 390.0L683.9 403.2L686.4 390.4L688.9 396.7L691.4 398.8L693.9 393.5L696.4 399.0L698.9 393.0L701.4 394.2L703.9 399.0L706.4 390.6L708.9 395.7L711.4 389.1L713.9 388.5L716.4 394.7L718.9 388.2L721.4 398.6L723.9 390.7L726.4 383.9L728.9 389.4L731.4 377.5L733.9 384.7L736.4 389.0L738.9 393.5L741.4 383.9L743.9 389.6L746.4 383.2L748.9 393.8L751.4 384.3L753.9 390.9L756.4 382.4L758.9 393.2L761.4 387.8L763.9 393.5L766.4 390.0L768.9 392.3L771.4 399.3L773.9 396.3L776.4 402.3L778.9 402.7L781.4 395.3L783.9 395.8L786.4 393.0L788.9 403.7L791.4 391.9L793.9 400.9L796.4 394.6L798.9 394.8L801.4 394.9L803.9 404.7L806.4 397.9L808.9 410.2L811.4 413.5L813.9 406.4L816.4 409.2L818.9 404.0L821.4 410.4L823.9 405.6L826.4 411.6L828.9 401.6L831.4 408.2L833.9 402.5L836.4 415.4L838.9 401.3L841.4 408.3L843.9 402.3L846.4 408.2L848.9 402.7L851.4 404.7L853.9 406.2L856.4 408.7L858.9 399.1L861.4 406.1L863.9 400.2L866.4 401.2L868.9 404.3L871.4 399.1L873.9 405.7L876.4 397.6L878.9 399.5L881.4 392.7L883.9 396.0L886.4 396.5L888.9 392.1L891.4 392.3L893.9 398.8L896.4 396.7L898.9 396.3L901.4 391.1L903.9 396.5L906.4 390.9L908.9 393.0L911.4 397.5L913.9 391.7L916.4 399.1L918.9 391.5L921.4 392.0L923.9 389.9L926.4 405.2L928.9 397.7L931.4 404.4L932.6 420.0L933.4 50.0L937.2 50.0L937.5 548.0L937.8 50.0L942.3 50.0L942.5 245.0L943.0 262.0L943.6 244.0L944.2 266.0L944.8 262.0L945.5 330.0L946.6 355.0L948.0 430.0L948.8 478.7L949.8 440.0L950.0 288.0L950.6 400.0L952.0 520.0L953.6 490.9L956.0 470.0L959.0 435.0L962.0 410.0L964.5 395.0L967.6 388.0L972.0 378.0L977.0 372.0L982.1 364.4L984.5 383.0L987.0 374.0L989.0 388.9L991.5 378.3L994.0 384.1L996.5 381.9L999.0 383.7L1001.5 379.4L1004.0 382.2L1006.5 383.4L1009.0 375.5L1011.5 383.4L1014.0 382.1L1016.5 383.6L1019.0 383.6L1021.5 370.7L1024.0 382.9L1026.5 375.5L1029.0 383.2L1031.5 377.1L1034.0 389.7L1036.5 377.5L1039.0 375.3L1041.5 381.0L1044.0 376.9L1046.5 382.0L1049.0 377.0L1051.5 381.3L1054.0 377.4L1056.5 377.2L1059.0 382.6L1061.5 383.5L1064.0 376.4L1066.5 375.6L1069.0 379.0L1071.5 381.8L1074.0 377.2L1076.5 384.4L1079.0 378.0L1081.5 378.2L1084.0 382.2L1086.5 375.8L1089.0 378.7L1091.5 378.1L1094.0 380.2L1096.5 374.3L1099.0 384.0L1101.5 370.9L1104.0 378.3L1106.5 367.0L1109.0 379.1L1111.5 377.5L1114.0 374.0L1116.5 375.5L1119.0 377.7L1121.5 379.4L1124.0 379.4L1126.5 375.4L1129.0 380.5L1131.5 378.5L1134.0 381.0L1136.5 375.8L1139.0 379.7L1141.5 372.5L1144.0 381.0L1146.5 366.7L1149.0 379.8L1151.5 374.3L1154.0 379.4L1156.5 371.0L1159.0 378.5L1161.5 368.8L1164.0 374.8L1166.5 371.4L1169.0 372.6L1171.5 368.8L1174.0 373.5L1176.5 366.3L1179.0 375.0L1181.5 370.3L1184.0 377.5L1186.5 362.2L1189.0 371.2L1191.5 366.2L1194.0 377.7L1196.5 365.3L1199.0 370.5L1201.5 380.4L1204.0 373.0L1206.5 382.4L1209.0 376.8L1211.5 383.7L1214.0 384.8L1216.5 382.0L1219.0 381.1L1221.5 389.1L1224.0 382.6L1226.5 389.3L1229.0 384.7L1231.5 392.2L1234.0 378.8L1236.5 390.4L1239.0 385.9L1241.5 393.7L1244.0 379.9L1246.5 385.6L1249.0 393.5L1251.5 379.4L1254.0 389.2L1256.5 383.5L1259.0 391.9L1261.5 382.1L1264.0 382.3L1266.5 388.7L1269.0 390.9L1271.5 382.5L1274.0 380.3L1276.5 385.4L1279.0 386.3L1281.5 380.3L1284.0 379.0L1286.5 385.3L1289.0 372.4L1291.5 385.5L1294.0 375.2L1296.5 385.3L1299.0 377.8L1301.5 382.3L1304.0 379.9L1306.5 385.7L1309.0 390.6L1311.5 384.2L1314.0 380.5L1316.5 385.6L1319.0 375.3L1321.5 383.7L1324.0 379.8L1326.5 384.0L1329.0 375.4L1331.5 385.6L1334.0 375.6L1336.5 386.6L1339.0 380.9L1341.5 378.2L1344.0 386.2L1346.5 381.9L1349.0 388.7L1351.5 388.5L1354.0 385.3L1356.5 393.0L1359.0 385.2L1361.5 389.8L1364.0 381.7L1366.5 385.4L1369.0 378.4L1371.5 379.2L1374.0 383.2L1376.5 375.9L1379.0 371.9L1381.5 378.9L1384.0 374.5L1386.5 379.8L1389.0 388.1L1391.5 384.6L1394.0 377.3L1396.5 386.5L1399.0 375.4L1401.5 379.9L1404.0 384.2L1406.5 380.9L1409.0 380.1L1411.5 387.6L1414.0 382.0L1416.5 389.2L1419.0 388.9L1421.5 381.9L1424.0 388.2L1426.5 369.5L1427.8 388.8L1429.1 373.8L1430.4 387.3L1431.7 368.8L1433.0 377.3L1434.3 394.1L1435.6 376.5L1436.9 380.6L1438.2 392.3L1439.5 387.1L1440.8 377.6L1442.1 387.8L1443.4 376.9L1444.7 387.4L1446.0 381.1L1447.3 387.9L1448.6 378.3L1449.9 386.6L1451.2 377.4L1452.5 389.3L1453.8 389.1L1455.1 379.3L1456.4 389.7L1457.7 375.2L1459.0 392.6L1460.3 392.0L1461.6 378.8L1462.9 386.8L1464.2 380.3L1465.5 390.0L1466.8 377.8L1468.1 390.6L1469.4 381.8L1470.7 391.6L1472.0 393.2L1473.3 382.8L1474.6 388.9L1475.9 381.9L1477.2 389.4L1478.5 379.7L1479.8 391.8L1481.1 386.9L1482.4 377.8L1483.7 379.4L1485.0 390.4L1486.3 399.6L1487.6 379.8L1488.9 378.3L1490.2 376.5L1491.5 389.6L1492.8 389.3L1494.1 382.9L1495.4 382.9L1496.7 389.6L1498.0 381.2L1499.3 389.3L1500.6 380.0L1501.9 376.6L1503.2 391.5L1504.5 378.3L1505.8 392.6L1507.1 386.6L1508.4 367.2L1509.7 379.1L1511.0 392.8L1512.3 378.7L1513.6 388.5L1514.9 382.3L1516.2 390.9L1517.5 391.4L1518.8 377.0L1520.1 400.4L1521.4 386.1L1522.7 382.7L1524.0 376.6L1525.3 377.1L1526.6 375.9L1527.9 392.0L1529.2 377.9L1530.5 386.6L1531.8 399.7L1533.1 376.4L1534.4 386.0L1535.7 379.9L1537.0 387.5L1538.3 367.7L1539.6 393.3L1540.9 376.5L1542.2 389.4L1543.5 381.1L1544.8 396.3L1546.1 386.7L1547.4 374.9L1548.7 391.8L1550.0 391.0L1551.3 377.7L1552.6 379.7L1553.9 393.1L1555.2 378.1L1556.5 381.3L1557.8 398.5L1559.1 380.6L1560.4 390.1L1561.7 397.4L1563.0 376.1L1564.3 380.7L1565.6 373.2L1566.9 385.6L1568.2 375.3L1569.5 380.8L1570.8 376.3L1572.1 381.9L1573.4 371.7L1574.7 374.8L1576.0 366.3L1577.3 377.2L1578.6 385.4L1579.9 380.5L1581.2 372.8L1582.5 383.1L1583.8 375.0L1585.1 394.4L1586.4 383.2L1587.7 386.8L1589.0 376.6L1590.3 372.3L1591.6 392.4L1592.9 393.0L1594.2 393.2L1595.5 375.4L1596.8 385.7L1598.1 372.0L1599.4 369.8L1600.7 383.2L1602.0 364.2L1603.3 383.6L1604.6 379.8L1605.9 384.6L1607.2 370.8L1608.5 370.8L1609.8 385.0L1611.1 383.1L1612.4 371.3L1613.7 371.2L1615.0 382.2L1616.3 372.6L1617.6 386.6L1619.0 400.0L1619.6 247.0L1620.3 552.0" stroke="#0ff"/>
<path d="M262.0 552.0L263.0 640.0L264.0 690.0L264.5 687.8L265.7 686.0L266.9 693.6L268.1 685.2L269.3 687.4L270.5 696.1L271.7 679.2L272.9 697.4L274.1 686.4L275.3 704.7L276.5 683.1L277.7 696.6L278.9 698.2L280.1 687.7L281.3 696.5L282.5 691.2L283.7 696.5L284.9 687.2L286.1 700.5L287.3 699.7L288.5 681.1L289.7 699.3L290.9 688.3L292.1 697.8L293.3 691.3L294.5 692.3L295.7 697.5L297.3 702.8L299.0 700.0L301.0 703.0L303.0 698.0L310.0 694.7L312.0 694.2L315.1 695.5L318.2 694.3L321.3 693.9L324.4 695.0L327.5 693.6L330.6 695.9L333.7 693.7L336.8 694.6L339.9 694.4L343.0 693.9L346.1 692.6L349.2 694.5L352.3 694.4L355.4 693.5L358.5 693.1L361.6 692.8L364.7 694.1L367.8 697.9L370.9 697.1L374.0 697.1L377.1 694.8L380.2 696.4L383.3 695.0L386.4 695.7L389.5 695.0L392.6 694.8L395.7 695.1L398.8 695.3L401.9 694.3L405.0 695.0L408.1 694.0L411.2 694.3L414.3 692.5L417.4 694.2L420.5 694.0L423.6 693.4L426.7 693.6L429.8 693.0L432.9 693.4L436.0 691.4L439.1 692.2L442.2 693.5L445.3 692.1L448.4 693.5L451.5 691.4L454.6 692.4L457.7 691.6L460.8 692.8L463.9 691.3L467.0 692.2L470.1 691.9L473.2 690.3L476.3 690.8L479.4 692.2L482.5 691.6L485.6 690.9L488.7 690.5L491.8 691.5L494.9 690.3L498.0 690.5L501.1 691.6L504.2 690.1L507.3 691.8L510.4 690.6L513.5 689.2L516.6 690.8L519.7 690.2L522.8 690.1L525.9 691.0L529.0 689.7L532.1 691.1L535.2 690.7L538.3 689.8L541.4 690.9L544.5 689.2L547.6 690.5L550.7 689.2L553.8 690.7L556.9 688.4L560.0 690.0L563.1 689.2L566.2 690.3L569.3 690.2L572.4 690.4L575.5 689.0L578.6 689.7L581.7 688.7L584.8 689.8L587.9 687.9L591.0 689.3L594.1 688.7L597.2 690.2L600.3 688.6L603.4 689.1L606.5 688.4L609.6 689.5L612.7 688.1L615.8 689.6L618.9 687.9L622.0 689.5L625.1 689.0L628.2 687.6L631.3 687.7L634.4 688.2L637.5 687.1L640.6 688.2L643.7 686.0L646.8 687.6L649.9 686.7L653.0 688.1L656.1 686.4L659.2 685.7L662.3 687.0L665.4 686.1L668.5 685.4L671.6 686.7L674.7 685.8L677.8 686.2L680.9 685.2L684.0 686.3L687.1 685.7L690.2 685.1L693.3 685.5L696.4 684.5L699.5 685.7L702.6 684.6L705.7 685.2L708.8 684.4L711.9 684.6L715.0 682.7L718.1 684.2L721.2 683.0L724.3 684.5L727.4 683.9L730.5 684.2L733.6 683.2L736.7 682.6L739.8 683.5L742.9 682.3L746.0 683.1L749.1 681.3L752.2 683.1L755.3 681.7L758.4 693.6L761.5 689.6L764.6 687.9L767.7 685.2L770.8 687.2L773.9 685.1L777.0 685.1L780.1 683.6L783.2 685.0L786.3 682.5L789.4 681.5L792.5 683.9L795.6 682.4L798.7 682.6L801.8 681.4L804.9 682.4L808.0 681.0L811.1 682.1L814.2 680.3L817.3 681.3L820.4 680.3L823.5 681.2L826.6 679.4L829.7 681.5L832.8 679.3L835.9 679.9L839.0 678.6L842.1 679.8L845.2 677.9L848.3 679.3L851.4 679.3L854.5 679.1L857.6 678.7L860.7 678.7L863.8 677.7L866.9 678.3L870.0 678.3L873.1 675.8L876.2 676.7L879.3 677.6L882.4 676.6L885.5 677.3L888.6 676.0L891.7 675.8L894.8 675.8L897.9 677.0L901.0 675.1L904.1 676.0L907.2 675.7L910.3 674.6L913.4 675.6L916.5 675.0L919.6 674.0L922.7 675.6L925.8 675.3L927.5 674.2L931.5 676.0L932.3 690.0L933.0 552.0M951.0 552.0L955.0 520.0L960.0 480.0L964.0 455.0L967.7 437.7L969.0 437.6L973.0 438.1L977.0 437.6L981.0 437.2L985.0 437.5L989.0 437.0L993.0 437.1L997.0 437.4L1001.0 437.8L1005.0 437.5L1009.0 436.7L1013.0 437.6L1017.0 436.6L1021.0 437.4L1025.0 437.2L1029.0 437.6L1033.0 437.1L1037.0 438.1L1041.0 437.3L1045.0 437.8L1049.0 437.2L1053.0 438.8L1057.0 441.3L1061.0 441.6L1065.0 443.0L1069.0 443.2L1073.0 442.7L1077.0 444.0L1081.0 443.0L1085.0 445.0L1089.0 445.0L1093.0 444.7L1097.0 444.7L1101.0 444.4L1105.0 445.2L1109.0 444.6L1113.0 445.9L1117.0 446.3L1121.0 445.5L1125.0 446.6L1129.0 446.4L1133.0 447.3L1137.0 448.2L1141.0 447.3L1145.0 446.8L1149.0 448.0L1153.0 447.2L1157.0 448.5L1161.0 448.0L1165.0 448.8L1169.0 448.4L1173.0 448.9L1177.0 448.4L1181.0 448.2L1185.0 450.4L1189.0 448.9L1193.0 448.4L1197.0 449.9L1201.0 448.7L1205.0 450.4L1209.0 449.6L1213.0 450.3L1217.0 449.6L1221.0 451.0L1225.0 451.1L1229.0 450.3L1233.0 450.3L1237.0 449.5L1241.0 448.0L1245.0 447.9L1249.0 448.6L1253.0 448.0L1257.0 448.9L1261.0 448.7L1265.0 448.3L1269.0 449.9L1273.0 448.2L1277.0 449.1L1281.0 448.9L1285.0 449.7L1289.0 451.7L1293.0 452.0L1297.0 452.4L1301.0 453.4L1305.0 453.2L1309.0 453.6L1313.0 454.5L1317.0 453.0L1321.0 454.7L1325.0 453.3L1329.0 454.3L1333.0 453.3L1337.0 454.3L1341.0 453.5L1345.0 454.6L1349.0 452.9L1353.0 453.8L1357.0 455.2L1361.0 454.9L1365.0 454.7L1369.0 454.0L1373.0 455.0L1377.0 455.2L1381.0 455.9L1385.0 454.0L1389.0 454.0L1393.0 454.4L1397.0 454.3L1401.0 454.8L1405.0 454.3L1409.0 455.0L1413.0 453.9L1417.0 453.9L1421.0 454.9L1425.0 455.2L1429.0 453.9L1433.0 454.5L1437.0 452.8L1441.0 454.6L1445.0 452.9L1449.0 454.3L1453.0 453.7L1457.0 454.3L1461.0 453.6L1465.0 455.4L1469.0 458.2L1473.0 459.6L1477.0 458.8L1481.0 459.8L1485.0 459.1L1489.0 459.5L1493.0 458.8L1497.0 459.4L1501.0 458.4L1505.0 459.6L1509.0 459.1L1513.0 459.9L1517.0 459.1L1521.0 458.6L1525.0 459.1L1529.0 460.2L1533.0 460.1L1537.0 459.2L1541.0 460.2L1545.0 459.4L1549.0 460.2L1553.0 458.8L1557.0 460.0L1561.0 458.8L1565.0 458.4L1569.0 458.0L1573.0 459.0L1577.0 457.8L1581.0 458.5L1585.0 457.8L1589.0 459.0L1593.0 458.3L1595.0 455.2L1596.3 461.7L1597.6 452.1L1598.9 462.5L1600.2 456.3L1601.5 454.8L1602.8 461.3L1604.1 455.8L1605.4 463.5L1606.7 462.6L1608.0 467.1L1609.3 454.6L1610.6 461.9L1611.9 460.8L1613.2 457.6L1614.5 458.1L1615.8 460.3L1617.1 465.7L1618.4 454.7" stroke="#00f" stroke-dasharray="10 4"/>
<path d="M258.0 552.0L260.0 470.0L262.0 380.0L263.5 347.0L264.0 346.3L264.9 347.7L265.8 346.4L266.7 346.8L267.6 348.1L268.5 345.9L269.4 347.9L270.3 345.7L271.2 347.3L272.1 346.1L273.0 347.9L273.9 346.7L274.8 346.2L275.7 347.6L276.6 346.3L277.5 346.7L278.4 347.1L279.3 346.6L280.2 347.6L281.1 345.7L282.0 345.9L282.9 347.6L283.8 346.6L284.7 349.4L285.6 346.8L286.5 348.6L287.4 346.4L288.3 348.5L289.2 346.3L296.0 347.6L330.0 348.2L400.0 349.5L489.2 351.2L619.8 352.8L732.5 357.8L847.1 364.7L925.0 369.4L927.0 371.0L929.0 368.5L931.5 369.9L933.3 372.0L933.6 552.0M963.0 552.0L964.5 470.0L966.0 410.0L967.7 389.4L1000.0 390.4L1080.4 396.8L1160.8 402.0L1221.0 404.4L1301.4 406.5L1379.8 408.5L1460.6 408.9L1466.0 410.0L1510.8 412.1L1590.0 413.2L1590.0 412.4L1591.3 413.4L1592.6 412.3L1593.9 413.9L1595.2 412.7L1596.5 413.1L1597.8 414.1L1599.1 412.1L1600.4 411.1L1601.7 413.1L1603.0 413.8L1604.3 412.0L1605.6 412.8L1606.9 414.0L1608.2 412.5L1609.5 412.6L1610.8 414.2L1612.1 413.1L1613.4 414.4L1614.7 412.5L1616.0 413.8L1617.3 411.7" stroke="#0ff" stroke-dasharray="10 4"/>
<path d="M248.4 884.0L249.0 944.0L249.8 890.0L250.4 946.0L251.2 850.0L252.0 796.0L252.7 967.0L253.6 860.0L254.5 905.0L255.3 800.0L255.9 980.4L256.5 900.0L257.0 700.0L257.4 640.0L257.9 745.0L258.6 715.0L259.5 735.0L260.0 735.2L261.2 736.7L262.4 735.8L263.6 743.1L264.8 736.0L266.0 745.7L267.2 736.6L268.4 737.1L269.6 744.5L270.8 737.0L272.0 744.8L273.2 742.7L274.4 742.2L275.6 735.3L276.8 740.9L278.0 731.9L279.2 740.1L280.4 738.1L281.6 742.7L282.8 742.7L284.0 736.7L285.2 735.5L286.4 738.4L287.6 741.4L288.8 735.7L290.0 741.4L291.2 739.7L292.4 736.6L293.6 742.4L294.8 738.0L296.0 744.5L297.2 745.5L298.4 748.1L299.6 750.2L300.8 748.1L302.0 749.2L303.2 748.0L304.4 749.6L305.6 748.5L306.8 749.0L308.0 745.1L309.2 746.2L310.4 739.9L311.6 742.2L312.8 744.3L314.0 741.3L315.2 741.7L316.4 742.9L317.6 741.8L318.8 742.9L320.0 741.2L321.2 741.2L322.4 742.3L323.6 741.2L324.8 742.6L326.0 743.0L327.2 740.2L328.4 743.0L329.6 741.3L330.8 741.5L332.0 740.7L333.2 741.6L334.4 742.4L335.6 742.3L336.8 743.2L338.0 743.8L339.2 743.4L340.4 739.9L341.6 742.7L342.8 741.3L344.0 742.2L345.2 740.2L346.4 742.5L347.6 743.9L348.8 741.3L350.0 740.3L351.2 742.3L352.4 741.1L353.6 742.5L354.8 740.6L356.0 742.9L357.2 741.0L358.4 742.2L359.6 740.9L360.8 742.8L362.0 742.8L363.2 744.4L364.4 747.9L365.6 748.5L366.8 749.4L368.0 748.1L369.2 750.5L370.4 744.6L371.6 744.2L372.8 745.5L374.0 744.0L375.2 743.5L376.4 746.8L377.6 744.1L378.8 744.0L380.0 744.8L381.2 744.2L382.4 745.0L383.6 744.2L384.8 745.1L386.0 745.9L387.2 744.1L388.4 744.0L389.6 745.7L390.8 745.8L392.0 744.1L393.2 745.1L394.4 742.5L395.6 745.6L396.8 743.8L398.0 745.3L399.2 744.9L400.4 743.6L401.6 744.2L402.8 745.0L404.0 743.6L405.2 743.8L406.4 743.9L407.6 745.2L408.8 743.6L410.0 744.9L411.2 744.0L412.4 745.1L413.6 743.5L414.8 745.2L416.0 743.9L417.2 744.2L418.4 745.5L419.6 743.9L420.8 745.8L422.0 750.4L423.2 751.8L424.4 750.3L425.6 752.1L426.8 747.8L428.0 743.7L429.2 743.1L430.4 740.9L431.6 743.0L432.8 740.8L434.0 743.2L435.2 741.7L436.4 742.5L437.6 740.2L438.8 744.0L440.0 741.2L441.2 741.2L443.7 740.1L446.2 742.3L448.7 741.3L451.2 740.2L453.7 741.3L456.2 740.6L458.7 742.2L461.2 741.4L463.7 741.0L466.2 743.2L468.7 740.7L471.2 742.8L473.7 742.0L476.2 741.7L478.7 740.1L481.2 741.6L483.7 741.2L486.2 741.9L488.7 742.2L491.2 739.4L493.7 742.0L496.2 741.2L498.7 741.4L501.2 741.4L503.7 740.5L506.2 742.2L508.7 740.3L511.2 740.6L513.7 741.8L516.2 740.1L518.7 741.4L521.2 742.2L523.7 740.4L526.2 741.3L528.7 740.4L531.2 741.4L533.7 740.4L536.2 740.1L538.7 741.0L541.2 740.6L543.7 742.3L546.2 740.2L548.7 740.9L551.2 740.2L553.7 741.0L556.2 740.3L558.7 740.9L561.2 740.1L563.7 740.3L566.2 740.4L568.7 741.1L571.2 739.7L573.7 741.1L576.2 739.6L578.7 741.7L581.2 739.0L583.7 741.0L586.2 738.5L588.7 740.6L591.2 740.1L593.7 741.3L596.2 739.9L598.7 740.8L601.2 739.7L603.7 741.1L606.2 740.7L608.7 739.6L611.2 739.5L613.7 741.4L616.2 739.5L618.7 740.5L621.2 739.0L623.7 740.3L626.2 739.6L628.7 741.0L631.2 739.0L633.7 739.7L636.2 738.9L638.7 739.0L641.2 739.4L643.7 740.0L646.2 739.9L648.7 738.2L651.2 739.8L653.7 736.8L656.2 739.5L658.7 738.0L661.2 739.4L663.7 737.9L666.2 738.7L668.7 737.3L671.2 736.3L673.7 739.0L676.2 736.5L678.7 738.6L681.2 737.2L683.7 737.2L686.2 735.7L688.7 737.9L691.2 736.5L693.7 737.7L696.2 736.7L698.7 737.9L701.2 736.7L703.7 737.4L706.2 736.7L708.7 737.4L711.2 735.9L713.7 738.4L716.2 737.0L718.7 737.3L721.2 739.2L723.7 737.1L726.2 737.1L728.7 737.5L731.2 739.0L733.7 737.9L736.2 737.8L738.7 737.5L741.2 738.7L743.7 738.2L746.2 738.8L748.7 738.1L751.2 739.6L753.7 739.1L756.2 738.3L758.7 751.1L761.2 751.6L763.7 751.9L766.2 748.1L768.7 745.5L771.2 740.1L773.7 741.1L776.2 740.3L778.7 740.0L781.2 740.2L783.7 739.8L786.2 741.4L788.7 740.3L791.2 741.0L793.7 739.5L796.2 740.6L798.7 739.2L801.2 740.3L803.7 739.4L806.2 740.5L808.7 739.5L811.2 739.1L813.7 740.3L816.2 739.5L818.7 740.1L821.2 738.5L823.7 738.6L826.2 740.0L828.7 739.6L831.2 738.5L833.7 739.5L836.2 738.8L838.7 738.4L841.2 739.5L843.7 738.1L846.2 739.2L848.7 730.8L851.2 736.7L853.7 738.0L856.2 736.7L858.7 738.7L861.2 736.6L863.7 738.7L866.2 736.2L868.7 737.6L871.2 738.8L873.7 737.6L876.2 741.8L878.7 740.7L881.2 738.7L883.7 739.6L886.2 738.0L888.7 739.1L891.2 737.8L893.7 737.7L896.2 739.8L898.7 737.8L901.2 738.7L903.7 737.6L906.2 738.3L908.7 738.1L911.2 737.1L913.7 737.7L916.2 735.8L918.7 737.5L921.2 736.2L923.7 736.5L926.2 737.5L928.7 737.3L931.2 737.1L932.3 745.0L933.6 552.0L937.0 556.0L941.0 563.0L946.0 569.0L950.5 575.4L951.3 500.0L952.5 339.3L954.4 352.0L956.6 351.0L959.9 358.7L963.8 365.4L964.4 369.8L966.6 364.3L969.9 362.0L973.2 362.0L976.0 357.6L977.7 360.4L979.0 360.9L981.5 359.7L984.0 360.5L986.5 361.2L989.0 360.8L991.5 361.2L994.0 360.6L996.5 362.1L999.0 362.3L1001.5 360.2L1004.0 361.9L1006.5 361.0L1009.0 362.2L1011.5 359.4L1014.0 361.9L1016.5 359.5L1019.0 362.0L1021.5 360.5L1024.0 362.4L1026.5 362.0L1029.0 361.8L1031.5 362.3L1034.0 359.5L1036.5 362.3L1039.0 359.7L1041.5 362.3L1044.0 360.7L1046.5 361.4L1049.0 360.3L1051.5 355.1L1054.0 358.5L1056.5 362.7L1059.0 363.0L1061.5 361.7L1064.0 364.1L1066.5 362.3L1069.0 362.4L1071.5 363.5L1074.0 361.9L1076.5 363.7L1079.0 363.2L1081.5 363.2L1084.0 365.0L1086.5 362.4L1089.0 364.6L1091.5 362.3L1094.0 363.9L1096.5 362.8L1099.0 363.9L1101.5 364.5L1104.0 362.6L1106.5 364.3L1109.0 363.1L1111.5 363.7L1114.0 363.2L1116.5 364.2L1119.0 362.8L1121.5 364.4L1124.0 365.7L1126.5 363.0L1129.0 364.4L1131.5 364.4L1134.0 362.7L1136.5 363.9L1139.0 363.2L1141.5 364.1L1144.0 362.6L1146.5 364.2L1149.0 362.6L1151.5 364.0L1154.0 363.9L1156.5 364.1L1159.0 363.4L1161.5 364.3L1164.0 364.7L1166.5 364.7L1169.0 363.5L1171.5 364.3L1174.0 362.9L1176.5 364.3L1179.0 362.9L1181.5 364.4L1184.0 363.4L1186.5 363.1L1189.0 364.5L1191.5 363.2L1194.0 364.8L1196.5 363.6L1199.0 363.1L1201.5 365.1L1204.0 363.2L1206.5 364.4L1209.0 363.6L1211.5 365.0L1214.0 364.0L1216.5 365.4L1219.0 364.5L1221.5 365.9L1224.0 363.0L1226.5 365.6L1229.0 364.9L1231.5 366.3L1234.0 363.9L1236.5 363.2L1239.0 361.8L1241.5 362.3L1244.0 360.5L1246.5 360.8L1249.0 362.1L1251.5 360.7L1254.0 361.6L1256.5 361.4L1259.0 360.9L1261.5 361.8L1264.0 360.6L1266.5 361.6L1269.0 360.9L1271.5 360.6L1274.0 360.3L1276.5 362.3L1279.0 359.3L1281.5 359.8L1284.0 362.6L1286.5 365.6L1289.0 364.8L1291.5 366.6L1294.0 365.3L1296.5 365.9L1299.0 367.3L1301.5 366.0L1304.0 367.0L1306.5 368.2L1309.0 366.5L1311.5 367.8L1314.0 367.2L1316.5 369.4L1319.0 367.2L1321.5 368.5L1324.0 367.9L1326.5 369.3L1329.0 366.2L1331.5 367.8L1334.0 369.2L1336.5 368.2L1339.0 369.0L1341.5 367.5L1344.0 368.7L1346.5 366.4L1349.0 367.5L1351.5 369.0L1354.0 367.5L1356.5 369.2L1359.0 369.2L1361.5 368.3L1364.0 367.6L1366.5 369.3L1369.0 366.8L1371.5 369.4L1374.0 366.8L1376.5 369.7L1379.0 370.0L1381.5 367.9L1384.0 369.6L1386.5 367.5L1389.0 370.5L1391.5 369.5L1394.0 367.5L1396.5 367.7L1399.0 368.8L1401.5 367.9L1404.0 368.8L1406.5 367.0L1409.0 368.2L1411.5 367.2L1414.0 368.6L1416.5 367.2L1419.0 367.8L1421.5 367.7L1424.0 366.8L1426.5 368.0L1427.8 366.4L1429.1 368.3L1430.4 366.6L1431.7 369.9L1433.0 366.3L1434.3 368.2L1435.6 366.5L1436.9 366.1L1438.2 366.6L1439.5 369.8L1440.8 368.3L1442.1 366.1L1443.4 367.2L1444.7 366.1L1446.0 368.1L1447.3 365.8L1448.6 369.9L1449.9 365.7L1451.2 368.0L1452.5 365.4L1453.8 368.3L1455.1 365.4L1456.4 367.4L1457.7 367.7L1459.0 365.5L1460.3 366.7L1461.6 365.8L1462.9 366.7L1464.2 366.9L1465.5 369.5L1466.8 368.4L1468.1 371.9L1469.4 371.8L1470.7 372.8L1472.0 374.8L1473.3 371.7L1474.6 374.9L1475.9 371.9L1477.2 374.8L1478.5 375.1L1479.8 374.5L1481.1 372.1L1482.4 371.8L1483.7 370.5L1485.0 375.6L1486.3 374.3L1487.6 375.7L1488.9 371.8L1490.2 373.8L1491.5 372.9L1492.8 372.6L1494.1 376.0L1495.4 374.4L1496.7 371.4L1498.0 374.4L1499.3 376.0L1500.6 373.5L1501.9 371.5L1503.2 373.3L1504.5 374.2L1505.8 373.8L1507.1 372.8L1508.4 373.9L1509.7 371.5L1511.0 374.6L1512.3 372.7L1513.6 371.5L1514.9 374.5L1516.2 371.4L1517.5 373.2L1518.8 372.4L1520.1 372.5L1521.4 373.9L1522.7 374.2L1524.0 372.5L1525.3 373.5L1526.6 370.9L1527.9 371.4L1529.2 373.7L1530.5 372.1L1531.8 373.7L1533.1 371.0L1534.4 373.6L1535.7 372.2L1537.0 373.5L1538.3 371.8L1539.6 374.4L1540.9 373.4L1542.2 371.2L1543.5 374.1L1544.8 372.4L1546.1 373.1L1547.4 371.7L1548.7 371.4L1550.0 374.0L1551.3 371.4L1552.6 374.3L1553.9 371.8L1555.2 370.4L1556.5 373.4L1557.8 372.0L1559.1 372.4L1560.4 371.9L1561.7 369.9L1563.0 370.1L1564.3 371.4L1565.6 370.9L1566.9 367.2L1568.2 369.2L1569.5 368.3L1570.8 367.1L1572.1 368.9L1573.4 367.7L1574.7 368.0L1576.0 370.2L1577.3 369.1L1578.6 367.7L1579.9 370.0L1581.2 367.7L1582.5 370.3L1583.8 367.7L1585.1 370.2L1586.4 368.2L1587.7 369.4L1589.0 369.5L1590.3 367.1L1591.6 369.9L1592.9 368.1L1594.2 369.8L1595.5 359.0L1596.8 371.5L1598.1 364.2L1599.4 369.3L1600.7 364.9L1602.0 377.6L1603.3 363.4L1604.6 374.8L1605.9 371.1L1607.2 375.2L1608.5 366.2L1609.8 360.3L1611.1 365.5L1612.4 367.1L1613.7 359.0L1615.0 378.9L1616.3 367.7L1617.6 376.2L1619.3 380.0L1620.0 552.0" stroke="#0f0"/>
<path d="M257.2 893.0L257.6 626.5L307.4 626.5L308.0 628.2L327.3 628.2L329.6 625.0L758.7 624.8L759.5 626.8L931.5 626.8L932.5 552.0M951.0 552.0L951.2 478.7L1319.0 478.4L1320.0 479.8L1392.0 479.4L1393.0 477.2L1463.0 477.2L1464.0 479.4L1561.0 479.4L1562.0 478.4L1618.0 478.4" stroke="#0f0" stroke-dasharray="10 4"/>
<path d="M247.5 575.0L248.5 585.0L249.5 570.0L250.5 580.0L251.5 560.0L252.5 572.0L253.5 548.0L254.5 566.0L255.5 545.0L256.5 575.0L257.5 540.0L258.5 562.0L259.5 530.0L260.5 500.0L261.5 470.0L262.5 452.0L264.0 450.0L265.2 470.0L266.1 476.8L267.5 462.0L269.0 452.0L269.5 444.7L270.7 447.0L271.9 449.7L273.1 447.4L274.3 447.2L275.5 453.0L276.7 448.3L277.9 451.1L279.1 447.9L280.3 450.5L281.5 448.2L282.7 449.0L283.9 447.2L285.1 450.4L286.3 447.3L287.5 449.5L288.7 446.2L289.9 449.8L291.1 447.2L292.3 449.2L293.5 446.9L294.7 446.3L295.9 449.1L297.3 470.0L297.8 535.5L300.0 537.5L302.0 539.0L305.0 541.0L306.2 540.0L307.0 470.0L307.5 446.0L308.0 444.2L309.2 446.6L310.4 444.0L311.6 444.0L312.8 446.7L314.0 443.7L315.2 445.7L316.4 444.3L317.6 445.9L318.8 444.4L320.0 447.0L321.2 444.6L322.4 445.5L323.6 443.4L324.8 448.3L326.0 443.3L327.2 446.6L328.8 470.0L329.4 539.5L331.0 541.0L333.0 545.0L335.0 548.0L336.5 549.8L338.5 549.0L339.8 545.0L342.0 544.0L344.0 540.5L347.0 540.0L349.0 538.5L351.0 537.1L352.5 539.3L353.5 541.5L355.0 544.5L356.0 542.0L358.0 542.5L360.0 543.0L362.0 542.0L363.5 544.0L364.6 546.0L365.3 600.0L366.0 660.0L367.0 698.0L368.3 700.0L369.6 690.0L370.4 640.0L371.0 590.0L371.5 545.0L372.0 543.9L373.2 545.1L374.4 543.1L375.6 544.5L376.8 543.6L378.0 543.2L379.2 545.1L380.4 543.3L381.6 543.7L382.8 543.6L384.0 544.8L385.2 542.0L386.4 545.1L387.6 543.0L388.8 544.1L390.0 543.2L391.2 543.9L392.4 543.1L393.6 543.8L394.8 544.1L396.0 543.1L397.2 545.4L398.4 544.0L399.6 542.1L400.8 543.6L402.0 542.7L403.2 543.9L404.4 542.8L405.6 543.3L406.8 544.0L408.0 542.9L409.2 544.3L410.4 543.8L411.6 545.6L412.8 544.5L414.0 545.7L415.2 544.7L416.4 544.6L417.6 545.7L418.8 544.6L420.0 545.4L421.2 544.5L422.1 600.0L422.9 660.0L424.0 690.0L425.2 692.0L426.6 680.0L427.4 640.0L428.0 590.0L428.6 546.0L429.0 546.7L430.2 544.4L431.4 545.9L432.6 545.8L433.8 544.9L435.0 545.9L436.2 545.4L437.4 547.0L438.6 545.7L439.8 543.7L441.0 545.3L442.2 543.6L444.7 545.4L447.2 545.2L449.7 544.2L452.2 546.0L454.7 545.5L457.2 544.2L459.7 546.6L462.2 544.1L464.7 545.2L467.2 543.0L469.7 545.9L472.2 544.0L474.7 545.7L477.2 547.3L479.7 544.1L482.2 545.9L484.7 545.9L487.2 546.0L489.7 544.7L492.2 545.9L494.7 546.1L497.2 546.0L499.7 544.8L502.2 546.6L504.7 546.3L507.2 544.7L509.7 545.5L512.2 544.9L514.7 545.6L517.2 546.2L519.7 544.2L522.2 545.4L524.7 546.1L527.2 545.7L529.7 543.9L532.2 545.8L534.7 544.2L537.2 546.2L539.7 545.9L542.2 546.2L544.7 543.3L547.2 546.1L549.7 544.0L552.2 545.6L554.7 544.7L557.2 546.2L559.7 545.9L562.2 544.8L564.7 544.5L567.2 545.8L569.7 542.9L572.2 545.3L574.7 544.8L577.2 545.7L579.7 544.5L582.2 545.6L584.7 544.4L587.2 544.1L589.7 546.2L592.2 545.4L594.7 544.5L597.2 545.8L599.7 544.1L602.2 545.3L604.7 543.9L607.2 546.0L609.7 544.6L612.2 546.1L614.7 543.8L617.2 546.0L619.7 544.8L622.2 544.5L624.7 544.3L627.2 544.1L629.7 546.2L632.2 544.7L634.7 545.5L637.2 543.6L639.7 544.1L642.2 544.3L644.7 543.6L647.2 546.0L649.7 544.2L652.2 546.0L654.7 545.8L657.2 544.7L659.7 546.5L662.2 544.2L664.7 545.3L667.2 544.1L669.7 545.4L672.2 545.3L674.7 544.0L677.2 546.2L679.7 544.4L682.2 546.2L684.7 544.5L687.2 546.2L689.7 544.9L692.2 542.7L694.7 544.2L697.2 544.7L699.7 544.2L702.2 545.4L704.7 544.9L707.2 545.4L709.7 546.2L712.2 543.0L714.7 546.3L717.2 545.8L719.7 544.7L722.2 545.3L724.7 543.0L727.2 545.7L729.7 545.9L732.2 546.0L734.7 546.2L737.2 544.4L739.7 545.9L742.2 546.0L744.7 544.4L747.2 544.4L749.7 544.1L752.2 546.2L754.7 544.2L756.8 590.0L757.6 625.0L759.0 646.0L760.6 650.5L762.3 644.0L763.4 620.0L764.0 590.0L764.7 547.0L766.0 544.4L768.5 546.6L771.0 545.1L773.5 546.7L776.0 545.6L778.5 545.5L781.0 546.0L783.5 545.4L786.0 546.6L788.5 546.0L791.0 544.8L793.5 545.9L796.0 545.4L798.5 546.6L801.0 545.4L803.5 546.3L806.0 546.5L808.5 545.4L811.0 544.5L813.5 545.8L816.0 544.9L818.5 545.9L821.0 544.3L823.5 546.0L826.0 546.1L828.5 544.7L831.0 545.3L833.5 544.8L836.0 546.3L838.5 544.7L841.0 546.1L843.5 544.5L846.0 546.0L847.3 520.0L848.3 400.0L849.1 329.1L849.9 420.0L850.6 530.0L851.5 543.0L853.0 543.7L855.5 545.1L858.0 544.0L860.5 545.7L863.0 545.2L865.5 544.6L868.0 545.7L870.5 544.8L873.0 546.2L874.6 600.0L875.4 700.0L876.4 760.0L877.6 762.0L878.6 700.0L879.3 600.0L880.0 547.0L881.0 546.4L883.5 546.2L886.0 545.3L888.5 546.4L891.0 545.0L893.5 545.3L896.0 547.4L898.5 545.5L901.0 546.1L903.5 544.1L906.0 545.0L908.5 545.5L911.0 546.4L913.5 545.2L916.0 545.8L918.5 544.8L921.0 546.4L923.5 545.0L926.0 545.9L927.4 600.0L928.2 700.0L929.2 760.0L930.2 762.0L930.9 690.0L931.4 600.0L932.0 552.0L932.3 539.0L937.6 539.0L938.0 550.0L944.4 547.7L950.0 543.3L954.0 541.0L959.9 538.8L963.0 540.5L965.5 540.0L966.3 500.0L966.9 437.0L968.5 434.0L971.0 437.0L973.5 434.5L974.8 470.0L975.4 527.7L976.5 527.6L979.0 526.4L981.5 526.7L984.0 525.6L986.5 527.0L989.0 526.3L991.5 526.4L994.0 528.2L996.5 526.2L999.0 528.7L1001.5 527.2L1004.0 529.9L1006.5 531.9L1009.0 529.6L1011.5 530.3L1014.0 527.1L1016.5 529.1L1019.0 526.9L1021.5 527.4L1024.0 525.7L1026.5 526.0L1029.0 527.2L1031.5 526.5L1034.0 527.4L1036.5 526.5L1039.0 527.9L1041.5 526.7L1044.0 526.2L1046.5 529.7L1048.6 560.0L1049.3 600.0L1050.2 632.0L1051.0 644.0L1051.8 625.0L1052.5 585.0L1053.3 541.1L1053.5 540.4L1056.0 539.3L1058.5 537.2L1061.0 537.4L1063.5 537.5L1066.0 536.7L1068.5 538.2L1071.0 536.1L1073.5 537.6L1076.0 537.1L1077.4 536.3L1078.1 485.4L1079.0 437.6L1079.8 434.6L1081.4 437.1L1083.2 435.1L1084.2 464.6L1085.1 505.4L1086.2 532.3L1086.9 533.0L1089.4 534.6L1091.9 537.0L1094.4 537.4L1096.9 535.9L1099.4 536.6L1101.9 536.7L1104.4 535.2L1106.9 537.4L1109.4 535.6L1111.9 537.0L1114.4 535.9L1116.9 537.2L1118.6 536.3L1119.3 485.9L1120.2 438.6L1121.0 435.6L1123.1 438.1L1125.4 436.1L1126.4 465.6L1127.3 505.9L1128.4 532.3L1129.1 533.1L1131.6 536.1L1134.1 535.4L1136.6 535.8L1139.1 537.9L1141.6 535.4L1144.1 535.2L1146.6 537.1L1149.1 536.4L1151.6 534.9L1154.1 535.4L1156.6 535.1L1159.1 536.0L1161.6 535.3L1164.1 534.3L1166.6 536.5L1169.1 535.7L1171.6 534.6L1174.1 536.2L1176.6 535.1L1179.1 535.6L1181.6 535.9L1184.1 534.4L1186.6 536.1L1189.1 534.5L1191.6 535.8L1192.9 535.1L1193.6 485.4L1194.5 438.6L1195.3 435.6L1198.0 438.1L1200.8 436.1L1201.8 465.6L1202.7 505.4L1203.8 531.1L1204.5 531.9L1207.0 533.0L1209.5 535.4L1212.0 533.6L1214.5 533.6L1217.0 535.7L1219.5 534.9L1222.0 535.8L1224.5 534.5L1227.0 536.1L1229.5 534.7L1232.0 534.7L1234.5 537.3L1235.1 535.1L1235.8 486.9L1236.7 441.6L1237.5 438.6L1238.1 441.1L1238.9 439.1L1239.9 468.6L1240.8 506.9L1241.9 531.1L1242.6 531.0L1245.1 534.7L1247.6 533.8L1250.1 536.0L1252.6 534.1L1255.1 535.4L1257.6 534.2L1260.1 535.4L1262.6 534.5L1265.1 535.6L1267.6 535.9L1270.1 533.6L1272.6 534.3L1274.3 535.1L1275.0 484.4L1275.9 436.6L1276.7 433.6L1277.3 436.1L1278.1 434.1L1279.1 463.6L1280.0 504.4L1281.1 531.1L1281.8 531.4L1284.3 533.5L1286.8 535.8L1289.3 534.4L1291.8 535.7L1294.3 532.9L1296.8 536.0L1299.3 534.3L1301.8 535.4L1304.3 533.2L1306.8 537.1L1309.3 536.0L1311.8 533.4L1314.5 535.1L1315.2 486.9L1316.1 441.6L1316.9 438.6L1317.0 441.1L1317.3 439.1L1318.3 468.6L1319.2 506.9L1320.3 531.1L1321.0 530.4L1323.5 534.5L1326.0 535.8L1328.5 534.1L1331.0 535.7L1333.5 534.8L1336.0 535.7L1338.5 535.7L1341.0 534.3L1343.5 535.1L1346.0 533.8L1348.5 535.8L1351.0 533.6L1353.5 535.1L1356.0 533.9L1358.5 535.0L1361.0 535.4L1363.5 534.1L1366.0 535.5L1368.5 534.8L1371.0 534.0L1373.5 535.3L1376.0 532.2L1378.5 534.4L1381.0 533.4L1383.5 535.2L1385.8 534.0L1386.5 484.0L1387.4 437.0L1388.2 434.0L1389.8 436.5L1391.7 434.5L1392.7 464.0L1393.6 504.0L1394.7 530.0L1395.4 531.6L1397.9 531.2L1400.4 535.0L1402.9 532.0L1405.4 534.7L1407.9 533.8L1410.4 535.6L1412.9 533.4L1415.4 534.6L1417.9 533.7L1420.4 533.6L1422.9 534.5L1425.4 533.3L1426.7 535.1L1428.0 532.7L1429.3 535.4L1430.6 532.8L1431.9 532.7L1433.2 533.0L1434.5 535.2L1435.8 532.8L1437.1 534.6L1438.4 533.0L1439.7 535.1L1441.0 531.2L1442.3 535.2L1443.6 533.5L1444.9 534.5L1446.2 533.4L1447.5 531.2L1448.8 536.5L1450.1 532.6L1451.4 534.5L1452.7 531.8L1454.0 534.5L1455.3 532.9L1456.6 535.6L1457.9 532.6L1459.2 534.6L1460.5 533.5L1461.8 534.3L1462.6 534.0L1463.3 485.0L1464.2 439.0L1465.0 436.0L1465.1 438.5L1465.4 436.5L1466.4 466.0L1467.3 505.0L1468.4 530.0L1469.1 531.0L1470.4 532.7L1471.7 532.3L1473.0 534.3L1474.3 532.8L1475.6 533.7L1476.9 534.4L1478.2 533.8L1479.5 535.0L1480.8 533.0L1482.1 533.6L1483.4 534.9L1484.7 533.4L1486.0 535.4L1487.3 533.0L1488.6 535.4L1489.9 531.6L1491.2 535.4L1492.5 533.8L1493.8 535.8L1495.1 533.5L1496.4 535.0L1497.7 534.2L1499.0 533.5L1500.3 534.6L1501.6 533.1L1502.9 535.1L1504.2 533.8L1505.5 534.8L1506.8 533.6L1508.1 535.3L1509.4 533.4L1510.7 533.4L1512.0 534.7L1513.3 532.9L1514.6 534.5L1515.9 533.1L1517.2 534.4L1518.5 533.7L1519.8 534.3L1521.1 533.7L1522.4 535.8L1523.7 536.4L1525.0 534.2L1526.3 533.0L1527.6 534.9L1528.9 535.0L1530.2 532.8L1531.5 535.8L1532.8 533.8L1534.1 534.3L1535.4 533.0L1536.7 535.1L1538.0 533.1L1539.3 534.2L1540.6 533.6L1541.9 534.7L1543.2 532.6L1544.5 535.8L1545.8 534.7L1547.1 531.5L1548.4 535.4L1549.7 534.2L1551.0 534.6L1552.3 533.6L1553.6 535.8L1554.9 533.0L1556.2 535.4L1557.5 533.7L1558.0 534.0L1558.7 485.0L1559.6 439.0L1560.4 436.0L1561.0 438.5L1561.8 436.5L1562.8 466.0L1563.7 505.0L1564.8 530.0L1565.5 530.6L1566.8 531.9L1568.1 534.0L1569.4 530.8L1570.7 532.9L1572.0 528.6L1573.3 532.6L1574.6 532.8L1575.9 530.1L1577.2 532.3L1578.5 530.7L1579.8 532.0L1581.1 530.0L1582.4 532.0L1583.7 530.4L1585.0 532.6L1586.3 530.9L1587.6 532.9L1588.9 531.4L1590.2 533.3L1591.5 533.6L1592.8 530.8L1594.1 533.1L1595.4 530.2L1596.7 529.8L1598.0 532.5L1599.3 531.7L1600.6 529.7L1601.9 529.3L1603.2 530.9L1604.5 531.2L1605.8 530.6L1607.1 532.5L1608.4 532.0L1609.7 534.8L1611.0 534.9L1612.3 535.0L1613.6 537.2L1614.3 534.0L1615.0 432.0L1615.9 333.0L1616.7 330.0L1616.3 332.5L1616.1 330.5L1617.1 360.0L1618.0 452.0L1619.1 530.0L1619.0 470.0L1619.6 540.0L1620.2 552.0" stroke="#ff0"/>
<path d="M258.0 552.2L263.7 552.2L263.7 326.1L296.8 326.1L296.8 552.2L308.4 552.2L308.4 324.1L328.5 324.1L328.5 552.2L366.9 552.2L366.9 771.5L370.7 771.5L370.7 552.2L422.9 551.0L422.9 774.5L427.5 774.5L427.5 551.0L758.5 551.0L758.5 773.0L762.7 773.0L762.7 551.0L846.5 551.0L846.5 330.1L850.1 330.1L850.1 551.0L875.6 551.0L875.6 770.5L878.8 770.5L878.8 551.0L928.0 551.0L928.0 769.5L931.5 769.5L931.5 551.0L932.0 549.6L932.0 538.3L950.0 538.3L950.0 549.6L969.3 549.6L969.3 326.5L973.2 326.5L973.2 549.6L1048.4 549.6L1048.4 781.5L1051.1 781.5L1051.1 550.2L1078.0 550.2L1078.0 326.1L1083.4 326.1L1083.4 550.2L1120.0 553.0L1120.0 326.1L1126.6 326.1L1126.6 553.0L1193.9 553.0L1193.9 325.1L1200.4 325.1L1200.4 553.0L1235.1 553.0L1235.1 326.1L1238.5 326.1L1238.5 553.0L1274.3 553.0L1274.3 324.5L1278.7 324.5L1278.7 553.0L1314.5 553.0L1314.5 327.7L1317.5 327.7L1317.5 553.0L1386.6 553.0L1386.6 325.7L1392.6 325.7L1392.6 553.0L1463.0 553.0L1463.0 326.1L1466.6 326.1L1466.6 553.0L1559.0 553.0L1559.0 326.1L1562.7 326.1L1562.7 553.0L1615.3 553.0L1615.3 328.1L1617.3 328.1L1617.3 553.0L1619.0 553.0" stroke="#ff0" stroke-dasharray="10 4"/>
<path d="M259.0 552.0L260.0 640.0L261.0 720.0L262.6 789.8L263.4 760.0L264.0 744.8L265.2 751.8L266.4 746.0L267.6 750.9L268.8 753.9L270.0 745.6L271.2 751.6L272.4 750.6L273.6 746.0L274.8 751.8L276.0 743.9L277.2 750.8L278.4 754.0L279.6 747.8L280.8 749.6L282.0 743.8L283.2 751.7L284.4 747.2L285.6 750.2L286.8 750.0L288.0 752.3L289.2 745.7L290.4 747.9L291.6 750.3L292.8 751.3L294.0 747.7L295.2 750.8L296.4 754.4L297.6 753.8L298.8 758.3L300.0 757.5L301.2 759.1L302.4 758.9L303.6 756.2L304.8 759.1L306.0 757.2L307.2 756.9L308.4 755.3L309.6 751.1L310.8 751.3L312.0 750.2L313.2 751.5L314.4 751.3L315.6 750.7L316.8 750.3L318.0 751.3L319.2 750.2L320.4 751.4L321.6 750.5L322.8 751.3L324.0 748.8L325.2 751.7L326.4 750.4L327.6 751.8L328.8 750.2L330.0 751.2L331.2 750.0L332.4 751.8L333.6 749.8L334.8 751.3L336.0 750.4L337.2 752.1L338.4 748.7L339.6 751.5L340.8 748.8L342.0 753.2L343.2 751.5L344.4 751.4L345.6 752.2L346.8 750.8L348.0 750.3L349.2 751.8L350.4 749.8L351.6 752.5L352.8 750.0L354.0 751.7L355.2 751.3L356.4 749.9L357.6 751.8L358.8 751.8L360.0 751.9L361.2 750.0L362.4 753.3L363.6 750.2L364.8 751.5L366.0 753.2L367.2 758.8L368.4 757.0L369.6 756.2L370.8 757.0L372.0 753.2L373.2 753.8L374.4 752.1L375.6 754.9L376.8 751.7L378.0 754.2L379.2 751.9L380.4 753.2L381.6 754.0L382.8 752.3L384.0 753.4L385.2 752.1L386.4 753.3L387.6 751.8L388.8 753.3L390.0 752.8L391.2 752.6L392.4 752.6L393.6 754.5L394.8 753.6L396.0 752.7L397.2 753.7L398.4 752.7L399.6 753.3L400.8 752.1L402.0 754.2L403.2 751.9L404.4 753.8L405.6 754.0L406.8 752.5L408.0 751.7L409.2 753.8L410.4 753.6L411.6 751.9L412.8 753.4L414.0 751.8L415.2 753.3L416.4 752.7L417.6 753.6L418.8 753.3L420.0 752.3L421.2 757.4L422.4 757.7L423.6 759.4L424.8 758.8L426.0 760.2L427.2 757.7L428.4 754.8L429.6 752.5L430.8 750.7L432.0 752.2L433.2 751.4L434.4 750.2L435.6 752.0L436.8 751.5L438.0 750.4L439.2 750.6L440.4 751.6L441.6 750.0L444.1 750.6L446.6 751.5L449.1 750.6L451.6 751.1L454.1 750.1L456.6 750.3L459.1 752.1L461.6 750.3L464.1 751.1L466.6 750.2L469.1 749.8L471.6 749.4L474.1 749.8L476.6 750.2L479.1 751.1L481.6 749.5L484.1 750.1L486.6 750.8L489.1 749.7L491.6 751.0L494.1 751.5L496.6 750.7L499.1 750.8L501.6 749.7L504.1 750.1L506.6 751.2L509.1 750.0L511.6 751.9L514.1 750.1L516.6 749.9L519.1 749.5L521.6 750.8L524.1 750.5L526.6 750.5L529.1 750.5L531.6 749.3L534.1 751.5L536.6 749.5L539.1 749.6L541.6 750.7L544.1 749.6L546.6 749.4L549.1 750.5L551.6 750.1L554.1 749.6L556.6 751.3L559.1 749.4L561.6 751.5L564.1 749.0L566.6 750.5L569.1 750.0L571.6 749.1L574.1 749.6L576.6 749.9L579.1 749.6L581.6 749.1L584.1 750.0L586.6 749.0L589.1 750.4L591.6 749.1L594.1 750.2L596.6 749.3L599.1 750.2L601.6 750.5L604.1 750.1L606.6 748.9L609.1 748.8L611.6 750.2L614.1 748.8L616.6 748.8L619.1 750.2L621.6 748.6L624.1 750.2L626.6 748.5L629.1 751.0L631.6 748.8L634.1 750.4L636.6 748.9L639.1 749.9L641.6 750.9L644.1 748.6L646.6 749.2L649.1 749.3L651.6 748.8L654.1 748.5L656.6 749.6L659.1 748.8L661.6 747.4L664.1 748.1L666.6 749.6L669.1 748.5L671.6 749.4L674.1 749.5L676.6 748.0L679.1 748.0L681.6 749.0L684.1 747.4L686.6 749.5L689.1 747.8L691.6 749.5L694.1 748.2L696.6 749.0L699.1 748.7L701.6 747.9L704.1 747.9L706.6 748.7L709.1 747.4L711.6 748.8L714.1 747.3L716.6 748.2L719.1 748.2L721.6 748.9L724.1 746.0L726.6 747.7L729.1 746.8L731.6 747.6L734.1 746.7L736.6 746.6L739.1 748.2L741.6 746.7L744.1 747.9L746.6 747.0L749.1 748.5L751.6 746.9L754.1 748.2L756.6 747.8L759.1 761.1L761.6 759.5L764.1 761.3L766.6 757.9L769.1 752.7L771.6 750.6L774.1 749.7L776.6 749.1L779.1 750.3L781.6 748.8L784.1 750.8L786.6 748.9L789.1 750.2L791.6 748.3L794.1 749.8L796.6 749.0L799.1 748.9L801.6 749.8L804.1 748.7L806.6 748.5L809.1 749.1L811.6 749.7L814.1 748.2L816.6 749.2L819.1 748.0L821.6 748.9L824.1 749.1L826.6 747.1L829.1 748.9L831.6 746.6L834.1 748.9L836.6 747.5L839.1 748.2L841.6 747.8L844.1 747.0L846.6 747.7L849.1 740.9L851.6 748.0L854.1 746.9L856.6 746.9L859.1 747.7L861.6 747.6L864.1 746.8L866.6 746.2L869.1 747.3L871.6 748.6L874.1 746.3L876.6 747.8L879.1 747.2L881.6 746.3L884.1 747.2L886.6 747.8L889.1 747.3L891.6 746.5L894.1 747.6L896.6 747.2L899.1 746.1L901.6 747.5L904.1 746.5L906.6 748.0L909.1 746.3L911.6 747.8L914.1 746.8L916.6 746.8L919.1 748.5L921.6 746.8L924.1 747.4L926.6 747.7L929.1 747.9L932.5 752.0L934.0 551.6L950.0 551.6L951.5 500.0L952.5 281.0L953.3 310.0L954.4 336.5L956.0 342.0L957.7 346.5L960.0 350.0L962.1 352.0L964.4 357.6L966.6 354.3L969.9 352.0L973.2 352.0L976.5 349.8L977.7 351.0L979.0 351.1L981.5 350.1L984.0 351.5L986.5 352.1L989.0 350.3L991.5 351.5L994.0 349.2L996.5 351.9L999.0 350.7L1001.5 350.7L1004.0 352.1L1006.5 350.3L1009.0 351.4L1011.5 350.7L1014.0 350.2L1016.5 352.4L1019.0 350.4L1021.5 351.8L1024.0 349.3L1026.5 352.2L1029.0 350.8L1031.5 351.9L1034.0 350.2L1036.5 350.2L1039.0 352.4L1041.5 350.3L1044.0 351.9L1046.5 350.8L1049.0 350.6L1051.5 345.0L1054.0 351.1L1056.5 351.4L1059.0 353.6L1061.5 352.6L1064.0 352.4L1066.5 350.9L1069.0 352.6L1071.5 349.9L1074.0 354.1L1076.5 351.8L1079.0 351.6L1081.5 352.9L1084.0 353.2L1086.5 351.3L1089.0 353.1L1091.5 351.9L1094.0 352.7L1096.5 351.4L1099.0 351.9L1101.5 354.2L1104.0 351.4L1106.5 352.8L1109.0 352.3L1111.5 353.8L1114.0 351.5L1116.5 352.1L1119.0 353.1L1121.5 352.2L1124.0 353.8L1126.5 351.2L1129.0 353.1L1131.5 351.9L1134.0 353.2L1136.5 352.6L1139.0 354.0L1141.5 352.1L1144.0 353.2L1146.5 352.6L1149.0 354.5L1151.5 352.3L1154.0 353.5L1156.5 353.7L1159.0 352.2L1161.5 354.0L1164.0 352.8L1166.5 354.7L1169.0 351.8L1171.5 352.5L1174.0 355.7L1176.5 353.3L1179.0 352.9L1181.5 354.0L1184.0 353.0L1186.5 354.1L1189.0 354.5L1191.5 353.3L1194.0 353.2L1196.5 351.5L1199.0 354.0L1201.5 353.0L1204.0 354.1L1206.5 353.0L1209.0 354.8L1211.5 353.7L1214.0 355.0L1216.5 354.1L1219.0 354.7L1221.5 354.9L1224.0 353.4L1226.5 355.1L1229.0 353.7L1231.5 354.6L1234.0 355.1L1236.5 353.1L1239.0 353.2L1241.5 350.8L1244.0 351.0L1246.5 352.7L1249.0 353.2L1251.5 350.2L1254.0 351.9L1256.5 351.6L1259.0 350.9L1261.5 351.9L1264.0 349.7L1266.5 350.8L1269.0 349.1L1271.5 351.8L1274.0 350.5L1276.5 350.2L1279.0 349.9L1281.5 347.5L1284.0 351.2L1286.5 354.4L1289.0 356.1L1291.5 354.5L1294.0 355.8L1296.5 355.4L1299.0 356.3L1301.5 357.2L1304.0 355.8L1306.5 356.0L1309.0 354.7L1311.5 357.2L1314.0 355.7L1316.5 357.2L1319.0 356.8L1321.5 356.6L1324.0 358.2L1326.5 356.8L1329.0 358.3L1331.5 355.2L1334.0 358.3L1336.5 357.9L1339.0 358.2L1341.5 358.5L1344.0 356.8L1346.5 357.8L1349.0 356.6L1351.5 359.8L1354.0 357.2L1356.5 358.5L1359.0 356.4L1361.5 359.7L1364.0 356.7L1366.5 357.2L1369.0 357.9L1371.5 355.8L1374.0 356.6L1376.5 358.4L1379.0 356.8L1381.5 357.0L1384.0 358.7L1386.5 357.7L1389.0 359.5L1391.5 356.5L1394.0 357.5L1396.5 358.5L1399.0 358.5L1401.5 358.3L1404.0 358.1L1406.5 356.4L1409.0 357.8L1411.5 356.4L1414.0 357.7L1416.5 356.9L1419.0 357.6L1421.5 357.9L1424.0 357.3L1426.5 353.8L1427.8 358.2L1429.1 356.4L1430.4 356.3L1431.7 357.1L1433.0 355.6L1434.3 357.1L1435.6 355.2L1436.9 356.9L1438.2 355.5L1439.5 355.5L1440.8 357.6L1442.1 353.7L1443.4 359.3L1444.7 355.7L1446.0 355.2L1447.3 357.8L1448.6 355.7L1449.9 357.1L1451.2 355.5L1452.5 357.6L1453.8 354.8L1455.1 354.6L1456.4 357.3L1457.7 355.7L1459.0 354.4L1460.3 356.3L1461.6 354.9L1462.9 355.5L1464.2 354.2L1465.5 359.0L1466.8 362.7L1468.1 360.8L1469.4 362.6L1470.7 360.4L1472.0 363.6L1473.3 361.5L1474.6 363.3L1475.9 360.7L1477.2 362.1L1478.5 362.2L1479.8 360.1L1481.1 362.0L1482.4 363.0L1483.7 360.2L1485.0 362.6L1486.3 361.1L1487.6 362.4L1488.9 360.1L1490.2 359.7L1491.5 362.2L1492.8 360.8L1494.1 362.9L1495.4 361.2L1496.7 361.8L1498.0 360.0L1499.3 361.0L1500.6 362.8L1501.9 361.1L1503.2 361.9L1504.5 362.0L1505.8 361.2L1507.1 363.2L1508.4 358.8L1509.7 362.1L1511.0 362.3L1512.3 362.8L1513.6 362.4L1514.9 360.3L1516.2 363.1L1517.5 358.6L1518.8 360.0L1520.1 359.1L1521.4 360.0L1522.7 362.6L1524.0 359.9L1525.3 362.3L1526.6 362.5L1527.9 360.2L1529.2 362.1L1530.5 360.9L1531.8 362.6L1533.1 360.3L1534.4 362.5L1535.7 360.4L1537.0 360.8L1538.3 361.9L1539.6 360.5L1540.9 362.1L1542.2 362.1L1543.5 362.8L1544.8 360.2L1546.1 362.5L1547.4 363.5L1548.7 362.7L1550.0 359.6L1551.3 360.3L1552.6 362.5L1553.9 360.1L1555.2 358.0L1556.5 360.3L1557.8 358.4L1559.1 360.9L1560.4 359.0L1561.7 360.7L1563.0 356.6L1564.3 359.2L1565.6 357.2L1566.9 356.5L1568.2 358.2L1569.5 356.6L1570.8 359.0L1572.1 356.2L1573.4 358.4L1574.7 359.0L1576.0 358.6L1577.3 357.1L1578.6 358.0L1579.9 356.3L1581.2 354.4L1582.5 358.3L1583.8 358.3L1585.1 356.5L1586.4 356.7L1587.7 356.2L1589.0 360.3L1590.3 356.0L1591.6 358.1L1592.9 357.7L1594.2 358.4L1595.5 355.8L1596.8 351.7L1598.1 360.8L1599.4 360.0L1600.7 350.4L1602.0 362.2L1603.3 353.2L1604.6 359.2L1605.9 353.6L1607.2 359.5L1608.5 361.3L1609.8 356.2L1611.1 358.2L1612.4 352.8L1613.7 361.7L1615.0 358.2L1616.3 359.5L1617.6 351.7L1618.8 330.0L1619.4 375.0L1620.0 552.0" stroke="#f0f" stroke-dasharray="10 4"/>
<path d="M248.5 127.2L249.0 175.0L250.5 240.0L251.5 300.0L253.0 370.0L255.0 440.0L257.0 520.0L259.5 610.0L261.5 700.0L262.6 790.0L263.2 775.0L265.2 758.8L351.0 757.0L489.0 754.5L620.0 750.0L760.7 741.6L851.0 733.0L931.5 725.9L967.7 405.3L983.2 405.3L1037.6 411.6L1080.4 414.9L1160.8 421.5L1221.0 424.9L1301.4 427.0L1379.8 429.6L1460.6 430.6L1541.0 434.2L1620.3 436.0" stroke="#f0f"/>
<path d="M247.5 323.5L249.0 340.0L251.0 400.0L254.0 460.0L257.0 520.0L259.0 560.0L261.0 600.0L262.5 625.0L263.4 630.3L932.5 630.3L967.7 473.4L998.7 473.4L999.5 472.5L1620.3 472.5" stroke="#000"/>
<path d="M248 396.5H1620M248 707.5H1620" stroke="#00f" stroke-width="1" stroke-dasharray="1 4"/>
<path d="M252 711.5H1620" stroke="#f00" stroke-dasharray="10 4"/>
</g>
<path d="M255 193.5h9M259.5 189v9M257 206.5h9M261.5 202v9M256 210.5h9M260.5 206v9M253 233.5h9M257.5 229v9M250 242.5h9M254.5 238v9M258 242.5h9M262.5 238v9M260 252.5h9M264.5 248v9M251 261.5h9M255.5 257v9M249 267.5h9M253.5 263v9M261 271.5h9M265.5 267v9M263 286.5h9M267.5 282v9M248 288.5h9M252.5 284v9M264 292.5h9M268.5 288v9M266 310.5h9M270.5 306v9M244 313.5h9M248.5 309v9M248 313.5h9M252.5 309v9M265 320.5h9M269.5 316v9M267 322.5h9M271.5 318v9M269 333.5h9M273.5 329v9M246 344.5h9M250.5 340v9M268 347.5h9M272.5 343v9M271 353.5h9M275.5 349v9M270 359.5h9M274.5 355v9M244 368.5h9M248.5 364v9M272 367.5h9M276.5 363v9M272 375.5h9M276.5 371v9M274 379.5h9M278.5 375v9M274 385.5h9M278.5 381v9M275 390.5h9M279.5 386v9M276 393.5h9M280.5 389v9M277 397.5h9M281.5 393v9M278 403.5h9M282.5 399v9M278 413.5h9M282.5 409v9M279 418.5h9M283.5 414v9M280 424.5h9M284.5 420v9M281 431.5h9M285.5 427v9M282 436.5h9M286.5 432v9M282 439.5h9M286.5 435v9M283 445.5h9M287.5 441v9M284 453.5h9M288.5 449v9M285 460.5h9M289.5 456v9M286 465.5h9M290.5 461v9M286 467.5h9M290.5 463v9M287 474.5h9M291.5 470v9M288 483.5h9M292.5 479v9M289 491.5h9M293.5 487v9M290 497.5h9M294.5 493v9M290 504.5h9M294.5 500v9M291 506.5h9M295.5 502v9M292 509.5h9M296.5 505v9M293 510.5h9M297.5 506v9M293 512.5h9M297.5 508v9M294 512.5h9M298.5 508v9M295 508.5h9M299.5 504v9M296 508.5h9M300.5 504v9M297 511.5h9M301.5 507v9M298 516.5h9M302.5 512v9M298 517.5h9M302.5 513v9M299 518.5h9M303.5 514v9M300 515.5h9M304.5 511v9M300 510.5h9M304.5 506v9M301 514.5h9M305.5 510v9M302 517.5h9M306.5 513v9M303 520.5h9M307.5 516v9M304 528.5h9M308.5 524v9M304 543.5h9M308.5 539v9M305 552.5h9M309.5 548v9M306 559.5h9M310.5 555v9M306 569.5h9M310.5 565v9M307 577.5h9M311.5 573v9M308 581.5h9M312.5 577v9M309 592.5h9M313.5 588v9M309 600.5h9M313.5 596v9M311 605.5h9M315.5 601v9M311 612.5h9M315.5 608v9M312 619.5h9M316.5 615v9M313 624.5h9M317.5 620v9M314 631.5h9M318.5 627v9M314 639.5h9M318.5 635v9M315 645.5h9M319.5 641v9M316 651.5h9M320.5 647v9M316 660.5h9M320.5 656v9M318 666.5h9M322.5 662v9M318 674.5h9M322.5 670v9M319 680.5h9M323.5 676v9M320 684.5h9M324.5 680v9M321 690.5h9M325.5 686v9M321 700.5h9M325.5 696v9M322 709.5h9M326.5 705v9M323 718.5h9M327.5 714v9M324 723.5h9M328.5 719v9M325 723.5h9M329.5 719v9M326 724.5h9M330.5 720v9M326 725.5h9M330.5 721v9M327 724.5h9M331.5 720v9M328 724.5h9M332.5 720v9M329 725.5h9M333.5 721v9M330 725.5h9M334.5 721v9M330 723.5h9M334.5 719v9M331 720.5h9M335.5 716v9M332 718.5h9M336.5 714v9M333 714.5h9M337.5 710v9M335 713.5h9M339.5 709v9M336 711.5h9M340.5 707v9M338 708.5h9M342.5 704v9M339 713.5h9M343.5 709v9M341 716.5h9M345.5 712v9M342 720.5h9M346.5 716v9M343 727.5h9M347.5 723v9M344 733.5h9M348.5 729v9M346 737.5h9M350.5 733v9M347 744.5h9M351.5 740v9M349 746.5h9M353.5 742v9M350 752.5h9M354.5 748v9M351 753.5h9M355.5 749v9M353 759.5h9M357.5 755v9M354 759.5h9M358.5 755v9M355 763.5h9M359.5 759v9M356 762.5h9M360.5 758v9M358 764.5h9M362.5 760v9M360 758.5h9M364.5 754v9M361 747.5h9M365.5 743v9M362 738.5h9M366.5 734v9M362 729.5h9M366.5 725v9M364 716.5h9M368.5 712v9M365 715.5h9M369.5 711v9M366 712.5h9M370.5 708v9M368 708.5h9M372.5 704v9M369 705.5h9M373.5 701v9M370 704.5h9M374.5 700v9M371 701.5h9M375.5 697v9M373 699.5h9M377.5 695v9M374 698.5h9M378.5 694v9M376 697.5h9M380.5 693v9M377 695.5h9M381.5 691v9M378 696.5h9M382.5 692v9M379 695.5h9M383.5 691v9M381 698.5h9M385.5 694v9M383 699.5h9M387.5 695v9M384 705.5h9M388.5 701v9M385 709.5h9M389.5 705v9M386 710.5h9M390.5 706v9M388 715.5h9M392.5 711v9M389 716.5h9M393.5 712v9M391 721.5h9M395.5 717v9M392 723.5h9M396.5 719v9M393 725.5h9M397.5 721v9M395 727.5h9M399.5 723v9M396 726.5h9M400.5 722v9M397 731.5h9M401.5 727v9M398 734.5h9M402.5 730v9M400 734.5h9M404.5 730v9M401 738.5h9M405.5 734v9M403 739.5h9M407.5 735v9M404 745.5h9M408.5 741v9M405 746.5h9M409.5 742v9M406 751.5h9M410.5 747v9M408 754.5h9M412.5 750v9M409 754.5h9M413.5 750v9M411 754.5h9M415.5 750v9M412 756.5h9M416.5 752v9M413 759.5h9M417.5 755v9M415 756.5h9M419.5 752v9M416 758.5h9M420.5 754v9M418 756.5h9M422.5 752v9M418 745.5h9M422.5 741v9M419 738.5h9M423.5 734v9M419 726.5h9M423.5 722v9M420 715.5h9M424.5 711v9M422 706.5h9M426.5 702v9M423 696.5h9M427.5 692v9M424 692.5h9M428.5 688v9M425 691.5h9M429.5 687v9M427 689.5h9M431.5 685v9M428 689.5h9M432.5 685v9M430 687.5h9M434.5 683v9M431 690.5h9M435.5 686v9M432 691.5h9M436.5 687v9M433 692.5h9M437.5 688v9M435 690.5h9M439.5 686v9M436 692.5h9M440.5 688v9M438 690.5h9M442.5 686v9M439 688.5h9M443.5 684v9M441 687.5h9M445.5 683v9M442 687.5h9M446.5 683v9M443 684.5h9M447.5 680v9M444 687.5h9M448.5 683v9M446 682.5h9M450.5 678v9M447 681.5h9M451.5 677v9M449 680.5h9M453.5 676v9M450 682.5h9M454.5 678v9M451 684.5h9M455.5 680v9M453 681.5h9M457.5 677v9M454 683.5h9M458.5 679v9M455 686.5h9M459.5 682v9M456 684.5h9M460.5 680v9M458 685.5h9M462.5 681v9M459 686.5h9M463.5 682v9M461 683.5h9M465.5 679v9M462 683.5h9M466.5 679v9M464 684.5h9M468.5 680v9M465 685.5h9M469.5 681v9M466 688.5h9M470.5 684v9M467 689.5h9M471.5 685v9M469 687.5h9M473.5 683v9M470 686.5h9M474.5 682v9M471 683.5h9M475.5 679v9M473 679.5h9M477.5 675v9M474 676.5h9M478.5 672v9M475 675.5h9M479.5 671v9M477 673.5h9M481.5 669v9M478 676.5h9M482.5 672v9M479 679.5h9M483.5 675v9M481 685.5h9M485.5 681v9M482 687.5h9M486.5 683v9M483 692.5h9M487.5 688v9M485 695.5h9M489.5 691v9M486 699.5h9M490.5 695v9M488 703.5h9M492.5 699v9M489 704.5h9M493.5 700v9M490 708.5h9M494.5 704v9M492 705.5h9M496.5 701v9M493 702.5h9M497.5 698v9M494 701.5h9M498.5 697v9M496 696.5h9M500.5 692v9M497 694.5h9M501.5 690v9M499 694.5h9M503.5 690v9M500 688.5h9M504.5 684v9M501 688.5h9M505.5 684v9M503 688.5h9M507.5 684v9M504 683.5h9M508.5 679v9M505 683.5h9M509.5 679v9M507 680.5h9M511.5 676v9M508 681.5h9M512.5 677v9M509 677.5h9M513.5 673v9M511 678.5h9M515.5 674v9M512 679.5h9M516.5 675v9M514 683.5h9M518.5 679v9M515 684.5h9M519.5 680v9M516 686.5h9M520.5 682v9M518 690.5h9M522.5 686v9M519 697.5h9M523.5 693v9M520 701.5h9M524.5 697v9M522 704.5h9M526.5 700v9M523 708.5h9M527.5 704v9M524 712.5h9M528.5 708v9M526 713.5h9M530.5 709v9M527 714.5h9M531.5 710v9M528 718.5h9M532.5 714v9M529 720.5h9M533.5 716v9M531 719.5h9M535.5 715v9M533 718.5h9M537.5 714v9M533 721.5h9M537.5 717v9M535 723.5h9M539.5 719v9M536 724.5h9M540.5 720v9M538 724.5h9M542.5 720v9M539 726.5h9M543.5 722v9M540 727.5h9M544.5 723v9M542 725.5h9M546.5 721v9M543 731.5h9M547.5 727v9M544 731.5h9M548.5 727v9M546 729.5h9M550.5 725v9M547 728.5h9M551.5 724v9M548 727.5h9M552.5 723v9M550 723.5h9M554.5 719v9M551 721.5h9M555.5 717v9M552 720.5h9M556.5 716v9M554 718.5h9M558.5 714v9M555 716.5h9M559.5 712v9M557 719.5h9M561.5 715v9M558 716.5h9M562.5 712v9M559 716.5h9M563.5 712v9M560 716.5h9M564.5 712v9M562 712.5h9M566.5 708v9M563 712.5h9M567.5 708v9M565 711.5h9M569.5 707v9M566 709.5h9M570.5 705v9M567 709.5h9M571.5 705v9M569 708.5h9M573.5 704v9M570 707.5h9M574.5 703v9M572 707.5h9M576.5 703v9M573 708.5h9M577.5 704v9M574 708.5h9M578.5 704v9M575 705.5h9M579.5 701v9M577 707.5h9M581.5 703v9M578 712.5h9M582.5 708v9M580 711.5h9M584.5 707v9M581 715.5h9M585.5 711v9M582 714.5h9M586.5 710v9M584 717.5h9M588.5 713v9M585 716.5h9M589.5 712v9M586 721.5h9M590.5 717v9M587 721.5h9M591.5 717v9M589 725.5h9M593.5 721v9M590 728.5h9M594.5 724v9M592 730.5h9M596.5 726v9M593 731.5h9M597.5 727v9M595 736.5h9M599.5 732v9M596 736.5h9M600.5 732v9M597 735.5h9M601.5 731v9M598 735.5h9M602.5 731v9M600 734.5h9M604.5 730v9M601 734.5h9M605.5 730v9M603 733.5h9M607.5 729v9M603 733.5h9M607.5 729v9M605 732.5h9M609.5 728v9M606 734.5h9M610.5 730v9M608 735.5h9M612.5 731v9M609 734.5h9M613.5 730v9M610 736.5h9M614.5 732v9M612 734.5h9M616.5 730v9M613 733.5h9M617.5 729v9M614 730.5h9M618.5 726v9M616 724.5h9M620.5 720v9M617 721.5h9M621.5 717v9M619 717.5h9M623.5 713v9M620 713.5h9M624.5 709v9M622 706.5h9M626.5 702v9M623 705.5h9M627.5 701v9M624 698.5h9M628.5 694v9M625 696.5h9M629.5 692v9M627 687.5h9M631.5 683v9M628 682.5h9M632.5 678v9M630 681.5h9M634.5 677v9M631 681.5h9M635.5 677v9M632 687.5h9M636.5 683v9M634 690.5h9M638.5 686v9M635 697.5h9M639.5 693v9M636 701.5h9M640.5 697v9M638 700.5h9M642.5 696v9M639 700.5h9M643.5 696v9M640 700.5h9M644.5 696v9M642 701.5h9M646.5 697v9M643 701.5h9M647.5 697v9M645 701.5h9M649.5 697v9M646 702.5h9M650.5 698v9M647 708.5h9M651.5 704v9M649 709.5h9M653.5 705v9M650 709.5h9M654.5 705v9M651 711.5h9M655.5 707v9M653 709.5h9M657.5 705v9M654 708.5h9M658.5 704v9M655 705.5h9M659.5 701v9M657 708.5h9M661.5 704v9M658 707.5h9M662.5 703v9M659 705.5h9M663.5 701v9M660 702.5h9M664.5 698v9M662 696.5h9M666.5 692v9M663 697.5h9M667.5 693v9M664 693.5h9M668.5 689v9M666 691.5h9M670.5 687v9M667 687.5h9M671.5 683v9M669 690.5h9M673.5 686v9M670 690.5h9M674.5 686v9M671 693.5h9M675.5 689v9M672 699.5h9M676.5 695v9M674 704.5h9M678.5 700v9M675 704.5h9M679.5 700v9M677 710.5h9M681.5 706v9M678 708.5h9M682.5 704v9M679 714.5h9M683.5 710v9M681 713.5h9M685.5 709v9M682 717.5h9M686.5 713v9M683 716.5h9M687.5 712v9M685 717.5h9M689.5 713v9M686 721.5h9M690.5 717v9M688 718.5h9M692.5 714v9M689 717.5h9M693.5 713v9M690 720.5h9M694.5 716v9M691 723.5h9M695.5 719v9M693 725.5h9M697.5 721v9M694 728.5h9M698.5 724v9M695 730.5h9M699.5 726v9M697 736.5h9M701.5 732v9M699 741.5h9M703.5 737v9M699 746.5h9M703.5 742v9M701 751.5h9M705.5 747v9M703 757.5h9M707.5 753v9M704 757.5h9M708.5 753v9M705 761.5h9M709.5 757v9M706 756.5h9M710.5 752v9M708 751.5h9M712.5 747v9M709 745.5h9M713.5 741v9M710 743.5h9M714.5 739v9M712 742.5h9M716.5 738v9M713 743.5h9M717.5 739v9M714 746.5h9M718.5 742v9M716 759.5h9M720.5 755v9M717 758.5h9M721.5 754v9M718 748.5h9M722.5 744v9M720 743.5h9M724.5 739v9M721 734.5h9M725.5 730v9M723 739.5h9M727.5 735v9M724 745.5h9M728.5 741v9M726 749.5h9M730.5 745v9M727 754.5h9M731.5 750v9M728 758.5h9M732.5 754v9M729 761.5h9M733.5 757v9M731 764.5h9M735.5 760v9M732 768.5h9M736.5 764v9M733 770.5h9M737.5 766v9M735 769.5h9M739.5 765v9M736 772.5h9M740.5 768v9M737 774.5h9M741.5 770v9M739 776.5h9M743.5 772v9M740 779.5h9M744.5 775v9M742 781.5h9M746.5 777v9M743 785.5h9M747.5 781v9M744 783.5h9M748.5 779v9M746 784.5h9M750.5 780v9M747 784.5h9M751.5 780v9M748 784.5h9M752.5 780v9M750 782.5h9M754.5 778v9M751 783.5h9M755.5 779v9M752 783.5h9M756.5 779v9M754 778.5h9M758.5 774v9M755 764.5h9M759.5 760v9M756 752.5h9M760.5 748v9M757 743.5h9M761.5 739v9M757 737.5h9M761.5 733v9M758 726.5h9M762.5 722v9M758 717.5h9M762.5 713v9M759 710.5h9M763.5 706v9M760 706.5h9M764.5 702v9M762 701.5h9M766.5 697v9M763 699.5h9M767.5 695v9M765 693.5h9M769.5 689v9M766 687.5h9M770.5 683v9M767 682.5h9M771.5 678v9M768 679.5h9M772.5 675v9M770 678.5h9M774.5 674v9M771 682.5h9M775.5 678v9M773 684.5h9M777.5 680v9M774 687.5h9M778.5 683v9M775 691.5h9M779.5 687v9M776 691.5h9M780.5 687v9M778 694.5h9M782.5 690v9M779 694.5h9M783.5 690v9M781 697.5h9M785.5 693v9M782 703.5h9M786.5 699v9M784 705.5h9M788.5 701v9M785 707.5h9M789.5 703v9M786 706.5h9M790.5 702v9M787 710.5h9M791.5 706v9M789 714.5h9M793.5 710v9M790 714.5h9M794.5 710v9M792 708.5h9M796.5 704v9M793 701.5h9M797.5 697v9M794 696.5h9M798.5 692v9M796 694.5h9M800.5 690v9M797 691.5h9M801.5 687v9M798 687.5h9M802.5 683v9M799 689.5h9M803.5 685v9M801 692.5h9M805.5 688v9M802 699.5h9M806.5 695v9M804 701.5h9M808.5 697v9M805 698.5h9M809.5 694v9M806 692.5h9M810.5 688v9M807 688.5h9M811.5 684v9M809 689.5h9M813.5 685v9M811 692.5h9M815.5 688v9M812 693.5h9M816.5 689v9M813 695.5h9M817.5 691v9M815 700.5h9M819.5 696v9M815 702.5h9M819.5 698v9M817 704.5h9M821.5 700v9M818 706.5h9M822.5 702v9M820 707.5h9M824.5 703v9M821 705.5h9M825.5 701v9M823 701.5h9M827.5 697v9M824 700.5h9M828.5 696v9M825 696.5h9M829.5 692v9M826 693.5h9M830.5 689v9M828 687.5h9M832.5 683v9M829 678.5h9M833.5 674v9M831 668.5h9M835.5 664v9M832 669.5h9M836.5 665v9M833 665.5h9M837.5 661v9M835 666.5h9M839.5 662v9M836 667.5h9M840.5 663v9M838 668.5h9M842.5 664v9M838 669.5h9M842.5 665v9M840 670.5h9M844.5 666v9M842 673.5h9M846.5 669v9M843 675.5h9M847.5 671v9M844 683.5h9M848.5 679v9M845 696.5h9M849.5 692v9M846 707.5h9M850.5 703v9M847 714.5h9M851.5 710v9M848 724.5h9M852.5 720v9M850 723.5h9M854.5 719v9M851 725.5h9M855.5 721v9M852 727.5h9M856.5 723v9M854 731.5h9M858.5 727v9M855 736.5h9M859.5 732v9M856 739.5h9M860.5 735v9M857 743.5h9M861.5 739v9M859 748.5h9M863.5 744v9M860 755.5h9M864.5 751v9M862 760.5h9M866.5 756v9M863 768.5h9M867.5 764v9M864 772.5h9M868.5 768v9M866 778.5h9M870.5 774v9M867 782.5h9M871.5 778v9M868 771.5h9M872.5 767v9M869 765.5h9M873.5 761v9M870 755.5h9M874.5 751v9M871 747.5h9M875.5 743v9M873 739.5h9M877.5 735v9M874 727.5h9M878.5 723v9M874 718.5h9M878.5 714v9M875 709.5h9M879.5 705v9M877 703.5h9M881.5 699v9M878 701.5h9M882.5 697v9M879 707.5h9M883.5 703v9M881 711.5h9M885.5 707v9M882 716.5h9M886.5 712v9M883 717.5h9M887.5 713v9M884 716.5h9M888.5 712v9M886 721.5h9M890.5 717v9M887 720.5h9M891.5 716v9M889 722.5h9M893.5 718v9M890 727.5h9M894.5 723v9M891 725.5h9M895.5 721v9M893 729.5h9M897.5 725v9M894 729.5h9M898.5 725v9M895 730.5h9M899.5 726v9M897 736.5h9M901.5 732v9M898 736.5h9M902.5 732v9M900 738.5h9M904.5 734v9M901 744.5h9M905.5 740v9M902 748.5h9M906.5 744v9M903 750.5h9M907.5 746v9M905 754.5h9M909.5 750v9M906 753.5h9M910.5 749v9M908 746.5h9M912.5 742v9M909 742.5h9M913.5 738v9M910 742.5h9M914.5 738v9M911 741.5h9M915.5 737v9M913 741.5h9M917.5 737v9M914 747.5h9M918.5 743v9M915 752.5h9M919.5 748v9M917 757.5h9M921.5 753v9M918 760.5h9M922.5 756v9M920 765.5h9M924.5 761v9M921 765.5h9M925.5 761v9M922 769.5h9M926.5 765v9M923 780.5h9M927.5 776v9M925 771.5h9M929.5 767v9M926 760.5h9M930.5 756v9M928 750.5h9M932.5 746v9M929 749.5h9M933.5 745v9M930 737.5h9M934.5 733v9M930 729.5h9M934.5 725v9M932 742.5h9M936.5 738v9M933 749.5h9M937.5 745v9M934 751.5h9M938.5 747v9M936 749.5h9M940.5 745v9M937 751.5h9M941.5 747v9M938 753.5h9M942.5 749v9M940 753.5h9M944.5 749v9M941 751.5h9M945.5 747v9M943 752.5h9M947.5 748v9M944 751.5h9M948.5 747v9M945 747.5h9M949.5 743v9M947 745.5h9M951.5 741v9M948 737.5h9M952.5 733v9M949 739.5h9M953.5 735v9M951 746.5h9M955.5 742v9M952 751.5h9M956.5 747v9M954 752.5h9M958.5 748v9M955 754.5h9M959.5 750v9M956 755.5h9M960.5 751v9M957 761.5h9M961.5 757v9M959 765.5h9M963.5 761v9M960 769.5h9M964.5 765v9M962 775.5h9M966.5 771v9M963 780.5h9M967.5 776v9M964 783.5h9M968.5 779v9M966 781.5h9M970.5 777v9M966 770.5h9M970.5 766v9M967 763.5h9M971.5 759v9M968 753.5h9M972.5 749v9M968 743.5h9M972.5 739v9M969 737.5h9M973.5 733v9M969 727.5h9M973.5 723v9M970 719.5h9M974.5 715v9M971 706.5h9M975.5 702v9M972 696.5h9M976.5 692v9M974 692.5h9M978.5 688v9M975 694.5h9M979.5 690v9M976 694.5h9M980.5 690v9M978 694.5h9M982.5 690v9M979 697.5h9M983.5 693v9M981 696.5h9M985.5 692v9M982 696.5h9M986.5 692v9M983 696.5h9M987.5 692v9M984 693.5h9M988.5 689v9M986 693.5h9M990.5 689v9M987 690.5h9M991.5 686v9M988 688.5h9M992.5 684v9M990 687.5h9M994.5 683v9M991 686.5h9M995.5 682v9M993 685.5h9M997.5 681v9M994 684.5h9M998.5 680v9M995 682.5h9M999.5 678v9M997 679.5h9M1001.5 675v9M998 679.5h9M1002.5 675v9M999 677.5h9M1003.5 673v9M1001 676.5h9M1005.5 672v9M1002 672.5h9M1006.5 668v9M1003 673.5h9M1007.5 669v9M1005 677.5h9M1009.5 673v9M1006 680.5h9M1010.5 676v9M1007 686.5h9M1011.5 682v9M1009 689.5h9M1013.5 685v9M1010 693.5h9M1014.5 689v9M1011 699.5h9M1015.5 695v9M1013 705.5h9M1017.5 701v9M1014 712.5h9M1018.5 708v9M1015 719.5h9M1019.5 715v9M1017 724.5h9M1021.5 720v9M1019 716.5h9M1023.5 712v9M1020 714.5h9M1024.5 710v9M1021 709.5h9M1025.5 705v9M1023 705.5h9M1027.5 701v9M1023 703.5h9M1027.5 699v9M1025 700.5h9M1029.5 696v9M1026 694.5h9M1030.5 690v9M1028 686.5h9M1032.5 682v9M1029 684.5h9M1033.5 680v9M1031 679.5h9M1035.5 675v9M1032 680.5h9M1036.5 676v9M1033 675.5h9M1037.5 671v9M1035 674.5h9M1039.5 670v9M1036 674.5h9M1040.5 670v9M1037 674.5h9M1041.5 670v9M1039 671.5h9M1043.5 667v9M1040 671.5h9M1044.5 667v9M1041 666.5h9M1045.5 662v9M1043 668.5h9M1047.5 664v9M1044 673.5h9M1048.5 669v9M1045 675.5h9M1049.5 671v9M1047 678.5h9M1051.5 674v9M1048 687.5h9M1052.5 683v9M1048 699.5h9M1052.5 695v9M1049 709.5h9M1053.5 705v9M1049 722.5h9M1053.5 718v9M1051 736.5h9M1055.5 732v9M1052 737.5h9M1056.5 733v9M1053 743.5h9M1057.5 739v9M1055 744.5h9M1059.5 740v9M1056 751.5h9M1060.5 747v9M1057 750.5h9M1061.5 746v9M1059 754.5h9M1063.5 750v9M1060 749.5h9M1064.5 745v9M1062 748.5h9M1066.5 744v9M1063 749.5h9M1067.5 745v9M1064 755.5h9M1068.5 751v9M1065 761.5h9M1069.5 757v9M1067 764.5h9M1071.5 760v9M1068 766.5h9M1072.5 762v9M1069 776.5h9M1073.5 772v9M1071 781.5h9M1075.5 777v9M1072 783.5h9M1076.5 779v9M1074 784.5h9M1078.5 780v9M1075 784.5h9M1079.5 780v9M1076 780.5h9M1080.5 776v9M1078 772.5h9M1082.5 768v9M1078 763.5h9M1082.5 759v9M1079 754.5h9M1083.5 750v9M1079 742.5h9M1083.5 738v9M1080 731.5h9M1084.5 727v9M1081 719.5h9M1085.5 715v9M1081 710.5h9M1085.5 706v9M1083 710.5h9M1087.5 706v9M1084 713.5h9M1088.5 709v9M1086 716.5h9M1090.5 712v9M1087 716.5h9M1091.5 712v9M1088 721.5h9M1092.5 717v9M1089 721.5h9M1093.5 717v9M1091 725.5h9M1095.5 721v9M1092 730.5h9M1096.5 726v9M1094 732.5h9M1098.5 728v9M1095 734.5h9M1099.5 730v9M1097 738.5h9M1101.5 734v9M1098 740.5h9M1102.5 736v9M1099 736.5h9M1103.5 732v9M1101 741.5h9M1105.5 737v9M1102 745.5h9M1106.5 741v9M1103 749.5h9M1107.5 745v9M1105 755.5h9M1109.5 751v9M1106 759.5h9M1110.5 755v9M1107 769.5h9M1111.5 765v9M1108 778.5h9M1112.5 774v9M1110 784.5h9M1114.5 780v9M1112 788.5h9M1116.5 784v9M1113 795.5h9M1117.5 791v9M1114 790.5h9M1118.5 786v9M1116 788.5h9M1120.5 784v9M1117 786.5h9M1121.5 782v9M1118 782.5h9M1122.5 778v9M1119 772.5h9M1123.5 768v9M1119 765.5h9M1123.5 761v9M1120 754.5h9M1124.5 750v9M1121 744.5h9M1125.5 740v9M1121 734.5h9M1125.5 730v9M1122 725.5h9M1126.5 721v9M1122 717.5h9M1126.5 713v9M1123 708.5h9M1127.5 704v9M1124 701.5h9M1128.5 697v9M1125 694.5h9M1129.5 690v9M1126 692.5h9M1130.5 688v9M1127 694.5h9M1131.5 690v9M1129 694.5h9M1133.5 690v9M1130 697.5h9M1134.5 693v9M1132 697.5h9M1136.5 693v9M1133 695.5h9M1137.5 691v9M1134 696.5h9M1138.5 692v9M1136 697.5h9M1140.5 693v9M1137 695.5h9M1141.5 691v9M1139 693.5h9M1143.5 689v9M1139 694.5h9M1143.5 690v9M1141 697.5h9M1145.5 693v9M1143 695.5h9M1147.5 691v9M1144 701.5h9M1148.5 697v9M1145 703.5h9M1149.5 699v9M1146 705.5h9M1150.5 701v9M1148 712.5h9M1152.5 708v9M1149 713.5h9M1153.5 709v9M1150 713.5h9M1154.5 709v9M1152 713.5h9M1156.5 709v9M1153 716.5h9M1157.5 712v9M1155 714.5h9M1159.5 710v9M1156 717.5h9M1160.5 713v9M1157 717.5h9M1161.5 713v9M1158 719.5h9M1162.5 715v9M1160 719.5h9M1164.5 715v9M1161 719.5h9M1165.5 715v9M1162 723.5h9M1166.5 719v9M1164 720.5h9M1168.5 716v9M1165 725.5h9M1169.5 721v9M1167 730.5h9M1171.5 726v9M1168 735.5h9M1172.5 731v9M1169 737.5h9M1173.5 733v9M1171 743.5h9M1175.5 739v9M1172 750.5h9M1176.5 746v9M1174 761.5h9M1178.5 757v9M1175 773.5h9M1179.5 769v9M1176 781.5h9M1180.5 777v9M1177 782.5h9M1181.5 778v9M1179 783.5h9M1183.5 779v9M1180 788.5h9M1184.5 784v9M1182 788.5h9M1186.5 784v9M1183 790.5h9M1187.5 786v9M1184 789.5h9M1188.5 785v9M1186 795.5h9M1190.5 791v9M1187 792.5h9M1191.5 788v9M1188 787.5h9M1192.5 783v9M1190 784.5h9M1194.5 780v9M1191 782.5h9M1195.5 778v9M1192 775.5h9M1196.5 771v9M1193 768.5h9M1197.5 764v9M1194 758.5h9M1198.5 754v9M1195 744.5h9M1199.5 740v9M1196 729.5h9M1200.5 725v9M1197 718.5h9M1201.5 714v9M1199 708.5h9M1203.5 704v9M1201 704.5h9M1205.5 700v9M1202 700.5h9M1206.5 696v9M1203 700.5h9M1207.5 696v9M1204 702.5h9M1208.5 698v9M1206 711.5h9M1210.5 707v9M1207 718.5h9M1211.5 714v9M1209 718.5h9M1213.5 714v9M1210 719.5h9M1214.5 715v9M1211 720.5h9M1215.5 716v9M1212 724.5h9M1216.5 720v9M1214 722.5h9M1218.5 718v9M1215 725.5h9M1219.5 721v9M1217 720.5h9M1221.5 716v9M1218 722.5h9M1222.5 718v9M1219 722.5h9M1223.5 718v9M1220 727.5h9M1224.5 723v9M1222 732.5h9M1226.5 728v9M1223 734.5h9M1227.5 730v9M1225 741.5h9M1229.5 737v9M1226 742.5h9M1230.5 738v9M1227 741.5h9M1231.5 737v9M1229 744.5h9M1233.5 740v9M1230 746.5h9M1234.5 742v9M1231 748.5h9M1235.5 744v9M1233 749.5h9M1237.5 745v9M1234 742.5h9M1238.5 738v9M1235 732.5h9M1239.5 728v9M1236 725.5h9M1240.5 721v9M1237 710.5h9M1241.5 706v9M1238 704.5h9M1242.5 700v9M1240 718.5h9M1244.5 714v9M1241 721.5h9M1245.5 717v9M1243 724.5h9M1247.5 720v9M1244 728.5h9M1248.5 724v9M1245 732.5h9M1249.5 728v9M1246 734.5h9M1250.5 730v9M1248 737.5h9M1252.5 733v9M1249 742.5h9M1253.5 738v9M1251 746.5h9M1255.5 742v9M1252 748.5h9M1256.5 744v9M1253 748.5h9M1257.5 744v9M1254 750.5h9M1258.5 746v9M1256 751.5h9M1260.5 747v9M1257 749.5h9M1261.5 745v9M1259 754.5h9M1263.5 750v9M1260 754.5h9M1264.5 750v9M1261 759.5h9M1265.5 755v9M1263 758.5h9M1267.5 754v9M1264 762.5h9M1268.5 758v9M1265 763.5h9M1269.5 759v9M1267 763.5h9M1271.5 759v9M1268 766.5h9M1272.5 762v9M1270 763.5h9M1274.5 759v9M1271 765.5h9M1275.5 761v9M1272 765.5h9M1276.5 761v9M1274 759.5h9M1278.5 755v9M1274 749.5h9M1278.5 745v9M1275 736.5h9M1279.5 732v9M1276 723.5h9M1280.5 719v9M1277 712.5h9M1281.5 708v9M1279 703.5h9M1283.5 699v9M1280 705.5h9M1284.5 701v9M1282 706.5h9M1286.5 702v9M1283 714.5h9M1287.5 710v9M1284 708.5h9M1288.5 704v9M1285 706.5h9M1289.5 702v9M1287 701.5h9M1291.5 697v9M1288 701.5h9M1292.5 697v9M1290 697.5h9M1294.5 693v9M1291 697.5h9M1295.5 693v9M1292 700.5h9M1296.5 696v9M1294 705.5h9M1298.5 701v9M1295 710.5h9M1299.5 706v9M1296 712.5h9M1300.5 708v9M1298 712.5h9M1302.5 708v9M1299 715.5h9M1303.5 711v9M1300 713.5h9M1304.5 709v9M1302 718.5h9M1306.5 714v9M1303 718.5h9M1307.5 714v9M1305 723.5h9M1309.5 719v9M1306 726.5h9M1310.5 722v9M1307 729.5h9M1311.5 725v9M1308 736.5h9M1312.5 732v9M1310 737.5h9M1314.5 733v9M1311 739.5h9M1315.5 735v9M1313 740.5h9M1317.5 736v9M1314 739.5h9M1318.5 735v9M1315 732.5h9M1319.5 728v9M1315 722.5h9M1319.5 718v9M1316 715.5h9M1320.5 711v9M1317 704.5h9M1321.5 700v9M1318 705.5h9M1322.5 701v9M1319 708.5h9M1323.5 704v9M1321 708.5h9M1325.5 704v9M1322 713.5h9M1326.5 709v9M1323 710.5h9M1327.5 706v9M1324 708.5h9M1328.5 704v9M1326 706.5h9M1330.5 702v9M1327 709.5h9M1331.5 705v9M1329 708.5h9M1333.5 704v9M1330 704.5h9M1334.5 700v9M1331 705.5h9M1335.5 701v9M1333 706.5h9M1337.5 702v9M1334 702.5h9M1338.5 698v9M1336 703.5h9M1340.5 699v9M1337 707.5h9M1341.5 703v9M1338 709.5h9M1342.5 705v9M1340 716.5h9M1344.5 712v9M1341 715.5h9M1345.5 711v9M1342 718.5h9M1346.5 714v9M1344 718.5h9M1348.5 714v9M1345 715.5h9M1349.5 711v9M1346 717.5h9M1350.5 713v9M1348 716.5h9M1352.5 712v9M1349 713.5h9M1353.5 709v9M1350 712.5h9M1354.5 708v9M1352 712.5h9M1356.5 708v9M1353 714.5h9M1357.5 710v9M1354 711.5h9M1358.5 707v9M1355 712.5h9M1359.5 708v9M1357 709.5h9M1361.5 705v9M1358 709.5h9M1362.5 705v9M1360 708.5h9M1364.5 704v9M1361 710.5h9M1365.5 706v9M1362 712.5h9M1366.5 708v9M1364 710.5h9M1368.5 706v9M1365 716.5h9M1369.5 712v9M1367 717.5h9M1371.5 713v9M1368 719.5h9M1372.5 715v9M1369 724.5h9M1373.5 720v9M1370 724.5h9M1374.5 720v9M1372 733.5h9M1376.5 729v9M1373 735.5h9M1377.5 731v9M1374 741.5h9M1378.5 737v9M1376 743.5h9M1380.5 739v9M1378 741.5h9M1382.5 737v9M1379 737.5h9M1383.5 733v9M1380 737.5h9M1384.5 733v9M1381 732.5h9M1385.5 728v9M1383 733.5h9M1387.5 729v9M1384 732.5h9M1388.5 728v9M1386 727.5h9M1390.5 723v9M1387 723.5h9M1391.5 719v9M1388 722.5h9M1392.5 718v9M1390 722.5h9M1394.5 718v9M1391 715.5h9M1395.5 711v9M1392 704.5h9M1396.5 700v9M1394 700.5h9M1398.5 696v9M1395 705.5h9M1399.5 701v9M1396 706.5h9M1400.5 702v9M1397 706.5h9M1401.5 702v9M1399 706.5h9M1403.5 702v9M1400 708.5h9M1404.5 704v9M1402 705.5h9M1406.5 701v9M1403 708.5h9M1407.5 704v9M1404 708.5h9M1408.5 704v9M1405 710.5h9M1409.5 706v9M1406 709.5h9M1410.5 705v9M1406 712.5h9M1410.5 708v9M1407 712.5h9M1411.5 708v9M1408 713.5h9M1412.5 709v9M1408 715.5h9M1412.5 711v9M1409 716.5h9M1413.5 712v9M1410 716.5h9M1414.5 712v9M1411 717.5h9M1415.5 713v9M1411 719.5h9M1415.5 715v9M1412 720.5h9M1416.5 716v9M1413 720.5h9M1417.5 716v9M1413 722.5h9M1417.5 718v9M1414 724.5h9M1418.5 720v9M1415 724.5h9M1419.5 720v9M1415 726.5h9M1419.5 722v9M1416 727.5h9M1420.5 723v9M1417 728.5h9M1421.5 724v9M1418 727.5h9M1422.5 723v9M1418 730.5h9M1422.5 726v9M1419 730.5h9M1423.5 726v9M1419 731.5h9M1423.5 727v9M1420 731.5h9M1424.5 727v9M1420 731.5h9M1424.5 727v9M1421 731.5h9M1425.5 727v9M1422 733.5h9M1426.5 729v9M1423 733.5h9M1427.5 729v9M1424 734.5h9M1428.5 730v9M1424 735.5h9M1428.5 731v9M1425 734.5h9M1429.5 730v9M1425 735.5h9M1429.5 731v9M1426 737.5h9M1430.5 733v9M1427 736.5h9M1431.5 732v9M1427 736.5h9M1431.5 732v9M1428 737.5h9M1432.5 733v9M1429 738.5h9M1433.5 734v9M1430 740.5h9M1434.5 736v9M1430 739.5h9M1434.5 735v9M1431 741.5h9M1435.5 737v9M1432 739.5h9M1436.5 735v9M1432 740.5h9M1436.5 736v9M1433 741.5h9M1437.5 737v9M1433 740.5h9M1437.5 736v9M1434 741.5h9M1438.5 737v9M1435 742.5h9M1439.5 738v9M1435 743.5h9M1439.5 739v9M1436 745.5h9M1440.5 741v9M1437 744.5h9M1441.5 740v9M1437 745.5h9M1441.5 741v9M1439 745.5h9M1443.5 741v9M1439 746.5h9M1443.5 742v9M1439 747.5h9M1443.5 743v9M1440 748.5h9M1444.5 744v9M1441 749.5h9M1445.5 745v9M1442 749.5h9M1446.5 745v9M1443 749.5h9M1447.5 745v9M1443 749.5h9M1447.5 745v9M1444 751.5h9M1448.5 747v9M1444 749.5h9M1448.5 745v9M1445 750.5h9M1449.5 746v9M1446 753.5h9M1450.5 749v9M1447 753.5h9M1451.5 749v9M1447 752.5h9M1451.5 748v9M1448 753.5h9M1452.5 749v9M1449 753.5h9M1453.5 749v9M1449 754.5h9M1453.5 750v9M1450 754.5h9M1454.5 750v9M1451 756.5h9M1455.5 752v9M1451 757.5h9M1455.5 753v9M1452 757.5h9M1456.5 753v9M1453 757.5h9M1457.5 753v9M1453 759.5h9M1457.5 755v9M1454 758.5h9M1458.5 754v9M1454 758.5h9M1458.5 754v9M1455 760.5h9M1459.5 756v9M1456 761.5h9M1460.5 757v9M1457 761.5h9M1461.5 757v9M1457 761.5h9M1461.5 757v9M1458 763.5h9M1462.5 759v9M1459 763.5h9M1463.5 759v9M1459 758.5h9M1463.5 754v9M1460 751.5h9M1464.5 747v9M1461 743.5h9M1465.5 739v9M1462 737.5h9M1466.5 733v9M1462 731.5h9M1466.5 727v9M1463 726.5h9M1467.5 722v9M1463 723.5h9M1467.5 719v9M1464 717.5h9M1468.5 713v9M1465 714.5h9M1469.5 710v9M1466 713.5h9M1470.5 709v9M1466 704.5h9M1470.5 700v9M1467 705.5h9M1471.5 701v9M1468 710.5h9M1472.5 706v9M1468 718.5h9M1472.5 714v9M1469 720.5h9M1473.5 716v9M1469 719.5h9M1473.5 715v9M1470 723.5h9M1474.5 719v9M1471 723.5h9M1475.5 719v9M1472 725.5h9M1476.5 721v9M1473 727.5h9M1477.5 723v9M1473 729.5h9M1477.5 725v9M1474 731.5h9M1478.5 727v9M1474 732.5h9M1478.5 728v9M1475 729.5h9M1479.5 725v9M1476 726.5h9M1480.5 722v9M1476 726.5h9M1480.5 722v9M1477 722.5h9M1481.5 718v9M1478 721.5h9M1482.5 717v9M1479 718.5h9M1483.5 714v9M1479 717.5h9M1483.5 713v9M1480 714.5h9M1484.5 710v9M1480 712.5h9M1484.5 708v9M1481 710.5h9M1485.5 706v9M1482 706.5h9M1486.5 702v9M1483 706.5h9M1487.5 702v9M1483 703.5h9M1487.5 699v9M1484 700.5h9M1488.5 696v9M1485 698.5h9M1489.5 694v9M1485 697.5h9M1489.5 693v9M1486 691.5h9M1490.5 687v9M1487 687.5h9M1491.5 683v9M1487 683.5h9M1491.5 679v9M1488 681.5h9M1492.5 677v9M1489 676.5h9M1493.5 672v9M1489 673.5h9M1493.5 669v9M1490 670.5h9M1494.5 666v9M1491 670.5h9M1495.5 666v9M1491 666.5h9M1495.5 662v9M1492 665.5h9M1496.5 661v9M1493 666.5h9M1497.5 662v9M1493 668.5h9M1497.5 664v9M1494 668.5h9M1498.5 664v9M1495 670.5h9M1499.5 666v9M1495 672.5h9M1499.5 668v9M1496 675.5h9M1500.5 671v9M1497 675.5h9M1501.5 671v9M1498 677.5h9M1502.5 673v9M1498 679.5h9M1502.5 675v9M1499 683.5h9M1503.5 679v9M1500 684.5h9M1504.5 680v9M1500 686.5h9M1504.5 682v9M1501 689.5h9M1505.5 685v9M1502 689.5h9M1506.5 685v9M1502 692.5h9M1506.5 688v9M1503 694.5h9M1507.5 690v9M1503 697.5h9M1507.5 693v9M1505 699.5h9M1509.5 695v9M1505 702.5h9M1509.5 698v9M1506 703.5h9M1510.5 699v9M1506 703.5h9M1510.5 699v9M1507 706.5h9M1511.5 702v9M1508 706.5h9M1512.5 702v9M1508 708.5h9M1512.5 704v9M1509 708.5h9M1513.5 704v9M1510 705.5h9M1514.5 701v9M1510 703.5h9M1514.5 699v9M1511 700.5h9M1515.5 696v9M1512 700.5h9M1516.5 696v9M1513 697.5h9M1517.5 693v9M1513 696.5h9M1517.5 692v9M1514 694.5h9M1518.5 690v9M1515 691.5h9M1519.5 687v9M1515 691.5h9M1519.5 687v9M1516 688.5h9M1520.5 684v9M1516 687.5h9M1520.5 683v9M1517 688.5h9M1521.5 684v9M1518 687.5h9M1522.5 683v9M1518 684.5h9M1522.5 680v9M1519 684.5h9M1523.5 680v9M1520 682.5h9M1524.5 678v9M1520 684.5h9M1524.5 680v9M1521 684.5h9M1525.5 680v9M1522 684.5h9M1526.5 680v9M1523 686.5h9M1527.5 682v9M1523 687.5h9M1527.5 683v9M1524 687.5h9M1528.5 683v9M1525 689.5h9M1529.5 685v9M1526 691.5h9M1530.5 687v9M1526 690.5h9M1530.5 686v9M1526 692.5h9M1530.5 688v9M1527 693.5h9M1531.5 689v9M1528 693.5h9M1532.5 689v9M1529 694.5h9M1533.5 690v9M1529 696.5h9M1533.5 692v9M1530 697.5h9M1534.5 693v9M1531 698.5h9M1535.5 694v9M1532 698.5h9M1536.5 694v9M1532 698.5h9M1536.5 694v9M1533 700.5h9M1537.5 696v9M1534 701.5h9M1538.5 697v9M1534 701.5h9M1538.5 697v9M1535 702.5h9M1539.5 698v9M1536 702.5h9M1540.5 698v9M1536 703.5h9M1540.5 699v9M1537 702.5h9M1541.5 698v9M1537 703.5h9M1541.5 699v9M1538 705.5h9M1542.5 701v9M1539 705.5h9M1543.5 701v9M1539 705.5h9M1543.5 701v9M1541 706.5h9M1545.5 702v9M1541 709.5h9M1545.5 705v9M1542 708.5h9M1546.5 704v9M1543 710.5h9M1547.5 706v9M1543 712.5h9M1547.5 708v9M1544 713.5h9M1548.5 709v9M1545 712.5h9M1549.5 708v9M1545 714.5h9M1549.5 710v9M1546 714.5h9M1550.5 710v9M1547 716.5h9M1551.5 712v9M1547 718.5h9M1551.5 714v9M1548 719.5h9M1552.5 715v9M1548 719.5h9M1552.5 715v9M1549 721.5h9M1553.5 717v9M1550 721.5h9M1554.5 717v9M1550 722.5h9M1554.5 718v9M1551 724.5h9M1555.5 720v9M1552 726.5h9M1556.5 722v9M1553 727.5h9M1557.5 723v9M1553 727.5h9M1557.5 723v9M1554 730.5h9M1558.5 726v9M1555 733.5h9M1559.5 729v9M1555 734.5h9M1559.5 730v9M1556 737.5h9M1560.5 733v9M1557 737.5h9M1561.5 733v9M1558 740.5h9M1562.5 736v9M1558 744.5h9M1562.5 740v9M1559 741.5h9M1563.5 737v9M1559 730.5h9M1563.5 726v9M1559 721.5h9M1563.5 717v9M1560 714.5h9M1564.5 710v9M1561 706.5h9M1565.5 702v9M1561 703.5h9M1565.5 699v9M1562 698.5h9M1566.5 694v9M1563 695.5h9M1567.5 691v9M1563 697.5h9M1567.5 693v9M1564 699.5h9M1568.5 695v9M1565 701.5h9M1569.5 697v9M1566 703.5h9M1570.5 699v9M1566 703.5h9M1570.5 699v9M1567 705.5h9M1571.5 701v9M1567 707.5h9M1571.5 703v9M1568 707.5h9M1572.5 703v9M1569 709.5h9M1573.5 705v9M1570 708.5h9M1574.5 704v9M1571 710.5h9M1575.5 706v9M1571 711.5h9M1575.5 707v9M1572 713.5h9M1576.5 709v9M1572 712.5h9M1576.5 708v9M1573 713.5h9M1577.5 709v9M1573 716.5h9M1577.5 712v9M1575 716.5h9M1579.5 712v9M1575 717.5h9M1579.5 713v9M1576 717.5h9M1580.5 713v9M1576 717.5h9M1580.5 713v9M1577 720.5h9M1581.5 716v9M1578 719.5h9M1582.5 715v9M1578 722.5h9M1582.5 718v9M1579 722.5h9M1583.5 718v9M1580 722.5h9M1584.5 718v9M1580 724.5h9M1584.5 720v9M1581 723.5h9M1585.5 719v9M1582 723.5h9M1586.5 719v9M1582 725.5h9M1586.5 721v9M1583 727.5h9M1587.5 723v9M1584 727.5h9M1588.5 723v9M1584 728.5h9M1588.5 724v9M1585 728.5h9M1589.5 724v9M1586 730.5h9M1590.5 726v9M1587 730.5h9M1591.5 726v9M1587 731.5h9M1591.5 727v9M1588 732.5h9M1592.5 728v9M1589 733.5h9M1593.5 729v9M1589 735.5h9M1593.5 731v9M1590 734.5h9M1594.5 730v9M1591 737.5h9M1595.5 733v9M1592 737.5h9M1596.5 733v9M1592 738.5h9M1596.5 734v9M1593 738.5h9M1597.5 734v9M1594 740.5h9M1598.5 736v9M1594 740.5h9M1598.5 736v9M1595 741.5h9M1599.5 737v9M1596 740.5h9M1600.5 736v9M1596 738.5h9M1600.5 734v9M1597 736.5h9M1601.5 732v9M1598 735.5h9M1602.5 731v9M1598 733.5h9M1602.5 729v9M1599 732.5h9M1603.5 728v9M1599 732.5h9M1603.5 728v9M1600 730.5h9M1604.5 726v9M1601 728.5h9M1605.5 724v9M1602 730.5h9M1606.5 726v9M1602 729.5h9M1606.5 725v9M1603 730.5h9M1607.5 726v9M1604 732.5h9M1608.5 728v9M1604 731.5h9M1608.5 727v9M1605 732.5h9M1609.5 728v9M1605 729.5h9M1609.5 725v9M1606 728.5h9M1610.5 724v9M1607 727.5h9M1611.5 723v9M1608 730.5h9M1612.5 726v9M1608 733.5h9M1612.5 729v9M1609 734.5h9M1613.5 730v9M1610 738.5h9M1614.5 734v9M1610 739.5h9M1614.5 735v9M1611 741.5h9M1615.5 737v9M1611 741.5h9M1615.5 737v9M1612 744.5h9M1616.5 740v9M1613 743.5h9M1617.5 739v9M1614 737.5h9M1618.5 733v9M1614 731.5h9M1618.5 727v9M1615 725.5h9M1619.5 721v9M1616 718.5h9M1620.5 714v9M1616 715.5h9M1620.5 711v9M1617 713.5h9M1621.5 709v9M1618 712.5h9M1622.5 708v9M1618 710.5h9M1622.5 706v9M1619 709.5h9M1623.5 705v9" stroke="#f00" stroke-width="1" fill="none"/>
<path d="M258.0 541.9L249.1 557.4H266.9ZM273.7 553.2L258.2 544.3V562.1ZM287.2 582.4L302.7 573.5V591.3ZM318.9 592.4L303.4 583.5V601.3ZM318.9 613.3L334.4 604.4V622.2ZM356.2 647.6L371.7 638.7V656.5ZM380.8 652.4L365.3 643.5V661.3ZM413.0 700.4L428.5 691.5V709.3ZM437.7 702.7L422.2 693.8V711.6ZM746.9 984.0L762.4 975.1V992.9ZM774.8 988.7L759.3 979.8V997.6ZM837.7 1054.4L853.2 1045.5V1063.3ZM859.8 1055.0L844.3 1046.1V1063.9ZM865.2 1076.0L880.7 1067.1V1084.9ZM887.8 1077.0L872.3 1068.1V1085.9ZM914.7 1119.0L930.2 1110.1V1127.9ZM938.3 1120.5L922.8 1111.6V1129.4ZM920.7 1121.5L936.2 1112.6V1130.4ZM944.3 1121.8L928.8 1112.9V1130.7ZM936.0 1110.7L927.1 1126.2H944.9ZM927.7 1121.6L943.2 1112.7V1130.5ZM951.3 1121.6L935.8 1112.7V1130.5ZM933.7 1121.5L949.2 1112.6V1130.4ZM951.5 1111.2L942.6 1126.7H960.4ZM957.3 1121.2L941.8 1112.3V1130.1ZM941.7 1119.5L957.2 1110.6V1128.4ZM966.3 1118.5L950.8 1109.6V1127.4ZM949.7 1116.0L965.2 1107.1V1124.9ZM962.2 1106.5L977.7 1097.6V1115.4ZM978.8 1109.0L963.3 1100.1V1117.9ZM964.7 1104.0L980.2 1095.1V1112.9ZM981.3 1107.0L965.8 1098.1V1115.9ZM1040.2 1036.9L1055.7 1028.0V1045.8ZM1060.8 1037.3L1045.3 1028.4V1046.2ZM1074.2 1007.7L1089.7 998.8V1016.6ZM1089.6 1008.5L1074.1 999.6V1017.4ZM1115.5 971.2L1131.0 962.3V980.1ZM1130.9 972.0L1115.4 963.1V980.9ZM1190.2 905.4L1205.7 896.5V914.3ZM1205.6 906.4L1190.1 897.5V915.3ZM1191.7 904.2L1207.2 895.3V913.1ZM1230.3 870.0L1245.8 861.1V878.9ZM1245.7 871.0L1230.2 862.1V879.9ZM1270.4 836.2L1285.9 827.3V845.1ZM1285.8 837.2L1270.3 828.3V846.1ZM1287.3 835.5L1271.8 826.6V844.4ZM1309.0 803.2L1324.5 794.3V812.1ZM1324.4 804.0L1308.9 795.1V812.9ZM1326.3 802.5L1310.8 793.6V811.4ZM1382.5 740.8L1398.0 731.9V749.7ZM1397.9 741.5L1382.4 732.6V750.4ZM1457.9 676.6L1473.4 667.7V685.5ZM1473.3 677.3L1457.8 668.4V686.2ZM1553.7 600.4L1569.2 591.5V609.3ZM1569.1 601.2L1553.6 592.3V610.1ZM1609.5 553.6L1625.0 544.7V562.5ZM1624.9 554.5L1609.4 545.6V563.4ZM1617.5 545.2L1608.6 560.7H1626.4Z" stroke="#000" stroke-width="1" fill="none"/>
<path d="M246.5 95.5H1706.5V1123.5H246.5Z" stroke="#000" stroke-width="1" fill="none"/>
<path d="M246.5 1065.5h14.5M1706.5 1065.5h-17M246.5 1008.5h14.5M1706.5 1008.5h-17M246.5 951.5h14.5M1706.5 951.5h-17M246.5 894.5h14.5M1706.5 894.5h-17M246.5 837.5h14.5M1706.5 837.5h-17M246.5 780.5h14.5M1706.5 780.5h-17M246.5 723.5h14.5M1706.5 723.5h-17M246.5 666.5h14.5M1706.5 666.5h-17M246.5 609.5h14.5M1706.5 609.5h-17M246.5 551.5h14.5M1706.5 551.5h-17M246.5 494.5h14.5M1706.5 494.5h-17M246.5 437.5h14.5M1706.5 437.5h-17M246.5 380.5h14.5M1706.5 380.5h-17M246.5 323.5h14.5M1706.5 323.5h-17M246.5 266.5h14.5M1706.5 266.5h-17M246.5 209.5h14.5M1706.5 209.5h-17M246.5 152.5h14.5M1706.5 152.5h-17M489.5 95.5v14.5M489.5 1123.5v-14.5M732.5 95.5v14.5M732.5 1123.5v-14.5M976.5 95.5v14.5M976.5 1123.5v-14.5M1219.5 95.5v14.5M1219.5 1123.5v-14.5M1462.5 95.5v14.5M1462.5 1123.5v-14.5" stroke="#000" stroke-width="1" fill="none"/>
<path d="M1711.5 95.5V1123.5M1707.0 95.5H1711.5M1707.0 1065.5H1711.5M1707.0 1008.5H1711.5M1707.0 951.5H1711.5M1707.0 894.5H1711.5M1707.0 837.5H1711.5M1707.0 780.5H1711.5M1707.0 723.5H1711.5M1707.0 666.5H1711.5M1707.0 609.5H1711.5M1707.0 551.5H1711.5M1707.0 494.5H1711.5M1707.0 437.5H1711.5M1707.0 380.5H1711.5M1707.0 323.5H1711.5M1707.0 266.5H1711.5M1707.0 209.5H1711.5M1707.0 152.5H1711.5" stroke="#f00" stroke-width="1" fill="none"/>
<path d="M1706.5 1123.5H1711.0" stroke="#000" stroke-width="1" fill="none"/>
<g filter="url(#al)">
<rect x="1370.5" y="748.5" width="323" height="362" fill="#fff" stroke="#000" stroke-width="1"/>
<path d="M1386 766.5H1470" stroke="#f00" stroke-width="1" fill="none"/>
<text x="1479.0" y="776.5" font-size="19.2" fill="#000">Height (10m)</text>
<path d="M1386 796.5H1470" stroke="#00f" stroke-width="1" fill="none"/>
<text x="1479.0" y="806.5" font-size="19.2" fill="#000">W = dz/dt (cm/s)</text>
<path d="M1386 825.5H1470" stroke="#0ff" stroke-width="1" fill="none"/>
<text x="1479.0" y="835.5" font-size="19.2" fill="#000">Horiz Speed(W,pitch)</text>
<path d="M1390 855.5H1470" stroke="#00f" stroke-width="1" stroke-dasharray="9.7 4.2" fill="none"/>
<text x="1479.0" y="865.5" font-size="19.2" fill="#000">Vert Speed(buoy,pitch)</text>
<path d="M1390 884.5H1470" stroke="#0ff" stroke-width="1" stroke-dasharray="9.7 4.2" fill="none"/>
<text x="1479.0" y="894.5" font-size="19.2" fill="#000">Horiz Speed(buoy,pitch)</text>
<path d="M1386 914.5H1470" stroke="#0f0" stroke-width="1" fill="none"/>
<text x="1479.0" y="924.5" font-size="19.2" fill="#000">Pitch Up (deg)</text>
<path d="M1390 943.5H1470" stroke="#0f0" stroke-width="1" stroke-dasharray="9.7 4.2" fill="none"/>
<text x="1479.0" y="953.5" font-size="19.2" fill="#000">Pitch Control (mm)</text>
<path d="M1386 973.5H1470" stroke="#ff0" stroke-width="1" fill="none"/>
<text x="1479.0" y="983.5" font-size="19.2" fill="#000">Vehicle Roll Stbd (deg)</text>
<path d="M1390 1002.5H1470" stroke="#ff0" stroke-width="1" stroke-dasharray="9.7 4.2" fill="none"/>
<text x="1479.0" y="1012.5" font-size="19.2" fill="#000">Roll Control (deg)</text>
<path d="M1390 1032.5H1470" stroke="#f0f" stroke-width="1" stroke-dasharray="9.7 4.2" fill="none"/>
<text x="1479.0" y="1042.5" font-size="19.2" fill="#000">Glide Angle (buoy,pitch)</text>
<path d="M1386 1061.5H1470" stroke="#f0f" stroke-width="1" fill="none"/>
<text x="1479.0" y="1071.5" font-size="19.2" fill="#000">1/5 Buoyancy (g)</text>
<path d="M1386 1091.5H1470" stroke="#000" stroke-width="1" fill="none"/>
<text x="1479.0" y="1101.5" font-size="19.2" fill="#000">VBD (10 cc)</text>
<text x="236.9" y="1141.8" font-size="43" text-anchor="end" textLength="83.2" lengthAdjust="spacingAndGlyphs" fill="#000">-100</text>
<text x="236.9" y="1084.7" font-size="43" text-anchor="end" textLength="60.1" lengthAdjust="spacingAndGlyphs" fill="#000">-90</text>
<text x="236.9" y="1027.6" font-size="43" text-anchor="end" textLength="60.1" lengthAdjust="spacingAndGlyphs" fill="#000">-80</text>
<text x="236.9" y="970.5" font-size="43" text-anchor="end" textLength="60.1" lengthAdjust="spacingAndGlyphs" fill="#000">-70</text>
<text x="236.9" y="913.4" font-size="43" text-anchor="end" textLength="60.1" lengthAdjust="spacingAndGlyphs" fill="#000">-60</text>
<text x="236.9" y="856.2" font-size="43" text-anchor="end" textLength="60.1" lengthAdjust="spacingAndGlyphs" fill="#000">-50</text>
<text x="236.9" y="799.1" font-size="43" text-anchor="end" textLength="60.1" lengthAdjust="spacingAndGlyphs" fill="#000">-40</text>
<text x="236.9" y="742.0" font-size="43" text-anchor="end" textLength="60.1" lengthAdjust="spacingAndGlyphs" fill="#000">-30</text>
<text x="236.9" y="684.9" font-size="43" text-anchor="end" textLength="60.1" lengthAdjust="spacingAndGlyphs" fill="#000">-20</text>
<text x="236.9" y="627.8" font-size="43" text-anchor="end" textLength="60.1" lengthAdjust="spacingAndGlyphs" fill="#000">-10</text>
<text x="236.9" y="570.7" font-size="43" text-anchor="end" textLength="23.1" lengthAdjust="spacingAndGlyphs" fill="#000">0</text>
<text x="236.9" y="513.6" font-size="43" text-anchor="end" textLength="46.3" lengthAdjust="spacingAndGlyphs" fill="#000">10</text>
<text x="236.9" y="456.5" font-size="43" text-anchor="end" textLength="46.3" lengthAdjust="spacingAndGlyphs" fill="#000">20</text>
<text x="236.9" y="399.4" font-size="43" text-anchor="end" textLength="46.3" lengthAdjust="spacingAndGlyphs" fill="#000">30</text>
<text x="236.9" y="342.2" font-size="43" text-anchor="end" textLength="46.3" lengthAdjust="spacingAndGlyphs" fill="#000">40</text>
<text x="236.9" y="285.1" font-size="43" text-anchor="end" textLength="46.3" lengthAdjust="spacingAndGlyphs" fill="#000">50</text>
<text x="236.9" y="228.0" font-size="43" text-anchor="end" textLength="46.3" lengthAdjust="spacingAndGlyphs" fill="#000">60</text>
<text x="236.9" y="170.9" font-size="43" text-anchor="end" textLength="46.3" lengthAdjust="spacingAndGlyphs" fill="#000">70</text>
<text x="236.9" y="113.8" font-size="43" text-anchor="end" textLength="46.3" lengthAdjust="spacingAndGlyphs" fill="#000">80</text>
<text x="245.7" y="1177.6" font-size="43" text-anchor="middle" textLength="23.1" lengthAdjust="spacingAndGlyphs" fill="#000">0</text>
<text x="487.6" y="1177.6" font-size="43" text-anchor="middle" textLength="46.3" lengthAdjust="spacingAndGlyphs" fill="#000">30</text>
<text x="731.0" y="1177.6" font-size="43" text-anchor="middle" textLength="46.3" lengthAdjust="spacingAndGlyphs" fill="#000">60</text>
<text x="974.3" y="1177.6" font-size="43" text-anchor="middle" textLength="46.3" lengthAdjust="spacingAndGlyphs" fill="#000">90</text>
<text x="1220.0" y="1177.6" font-size="43" text-anchor="middle" textLength="69.4" lengthAdjust="spacingAndGlyphs" fill="#000">120</text>
<text x="1463.4" y="1177.6" font-size="43" text-anchor="middle" textLength="69.4" lengthAdjust="spacingAndGlyphs" fill="#000">150</text>
<text x="1706.7" y="1177.6" font-size="43" text-anchor="middle" textLength="69.4" lengthAdjust="spacingAndGlyphs" fill="#000">180</text>
<text x="1717.7" y="1141.8" font-size="43" textLength="23.1" lengthAdjust="spacingAndGlyphs" fill="#f00">0</text>
<text x="1717.7" y="1084.7" font-size="43" textLength="46.3" lengthAdjust="spacingAndGlyphs" fill="#f00">20</text>
<text x="1717.7" y="1027.6" font-size="43" textLength="46.3" lengthAdjust="spacingAndGlyphs" fill="#f00">40</text>
<text x="1717.7" y="970.5" font-size="43" textLength="46.3" lengthAdjust="spacingAndGlyphs" fill="#f00">60</text>
<text x="1717.7" y="913.4" font-size="43" textLength="46.3" lengthAdjust="spacingAndGlyphs" fill="#f00">80</text>
<text x="1717.7" y="856.2" font-size="43" textLength="69.4" lengthAdjust="spacingAndGlyphs" fill="#f00">100</text>
<text x="1717.7" y="799.1" font-size="43" textLength="69.4" lengthAdjust="spacingAndGlyphs" fill="#f00">120</text>
<text x="1717.7" y="742.0" font-size="43" textLength="69.4" lengthAdjust="spacingAndGlyphs" fill="#f00">140</text>
<text x="1717.7" y="684.9" font-size="43" textLength="69.4" lengthAdjust="spacingAndGlyphs" fill="#f00">160</text>
<text x="1717.7" y="627.8" font-size="43" textLength="69.4" lengthAdjust="spacingAndGlyphs" fill="#f00">180</text>
<text x="1717.7" y="570.7" font-size="43" textLength="69.4" lengthAdjust="spacingAndGlyphs" fill="#f00">200</text>
<text x="1717.7" y="513.6" font-size="43" textLength="69.4" lengthAdjust="spacingAndGlyphs" fill="#f00">220</text>
<text x="1717.7" y="456.5" font-size="43" textLength="69.4" lengthAdjust="spacingAndGlyphs" fill="#f00">240</text>
<text x="1717.7" y="399.4" font-size="43" textLength="69.4" lengthAdjust="spacingAndGlyphs" fill="#f00">260</text>
<text x="1717.7" y="342.2" font-size="43" textLength="69.4" lengthAdjust="spacingAndGlyphs" fill="#f00">280</text>
<text x="1717.7" y="285.1" font-size="43" textLength="69.4" lengthAdjust="spacingAndGlyphs" fill="#f00">300</text>
<text x="1717.7" y="228.0" font-size="43" textLength="69.4" lengthAdjust="spacingAndGlyphs" fill="#f00">320</text>
<text x="1717.7" y="170.9" font-size="43" textLength="69.4" lengthAdjust="spacingAndGlyphs" fill="#f00">340</text>
<text x="1717.7" y="113.8" font-size="43" textLength="69.4" lengthAdjust="spacingAndGlyphs" fill="#f00">360</text>
<text x="187.2" y="56.0" font-size="65" textLength="1572.5" lengthAdjust="spacingAndGlyphs" fill="#000">SG502 OSMOSIS, dive 601 started 22-Apr-2013 13:49:20</text>
<text x="244.3" y="1245.0" font-size="40.5" textLength="401.0" lengthAdjust="spacingAndGlyphs" fill="#000">23-Apr-2013 19:06:37</text>
<text x="838.0" y="1227.0" font-size="41" textLength="272.5" lengthAdjust="spacingAndGlyphs" fill="#000">Time (minutes)</text>
<text x="1123.5" y="1245.0" font-size="40.5" textLength="280.5" lengthAdjust="spacingAndGlyphs" fill="#000">VBD bias =0 cc</text>
<text transform="translate(1837 764) rotate(-90)" font-size="44.5" fill="#f00" textLength="301" lengthAdjust="spacingAndGlyphs">(+) Heading (<tspan font-size="34" dy="-5">°</tspan><tspan dy="5">M)</tspan></text>
</g>
</svg>
</body></html>
